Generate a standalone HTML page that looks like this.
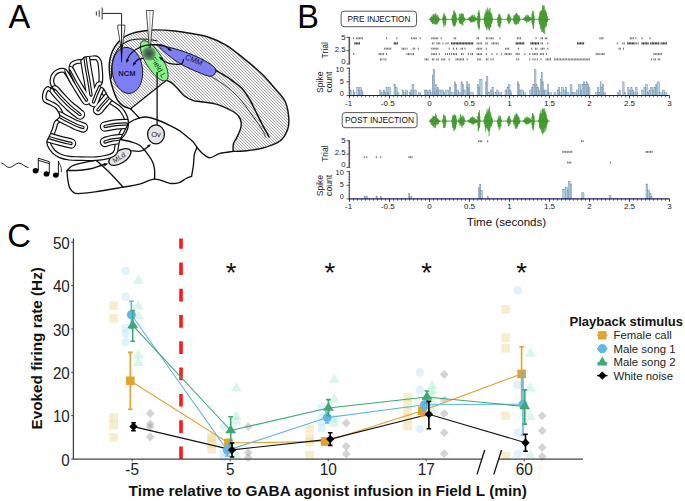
<!DOCTYPE html>
<html><head><meta charset="utf-8"><style>
html,body{margin:0;padding:0;background:#fff;}
svg{display:block;}
text{font-family:"Liberation Sans",sans-serif;}
</style></head><body>
<svg width="685" height="501" viewBox="0 0 685 501">
<rect width="685" height="501" fill="#fff"/>
<text x="8.4" y="27.9" font-size="32.6" fill="#000">A</text>
<text x="297.2" y="27.9" font-size="32.4" fill="#000">B</text>
<text x="7.2" y="247.2" font-size="32.8" fill="#000">C</text>
<defs><pattern id="hatch" patternUnits="userSpaceOnUse" width="3" height="3"><rect width="3" height="3" fill="#f4f4f4"/><rect x="0" y="0" width="1" height="1" fill="#aaaaaa"/><rect x="1" y="1" width="1" height="1" fill="#aaaaaa"/><rect x="2" y="2" width="1" height="1" fill="#aaaaaa"/></pattern><radialGradient id="spot"><stop offset="0" stop-color="#2c4f32"/><stop offset="0.45" stop-color="#4a6f50"/><stop offset="0.8" stop-color="#6a8c6e" stop-opacity="0.9"/><stop offset="1" stop-color="#80b080" stop-opacity="0"/></radialGradient></defs>
<path d="M130.60 108.80C129.42 108.37 125.70 107.65 123.50 106.20C121.30 104.75 119.03 102.58 117.40 100.10C115.77 97.62 114.85 94.65 113.70 91.30C112.55 87.95 111.25 83.88 110.50 80.00C109.75 76.12 109.28 71.50 109.20 68.00C109.12 64.50 109.45 61.83 110.00 59.00C110.55 56.17 111.17 53.75 112.50 51.00C113.83 48.25 115.92 44.92 118.00 42.50C120.08 40.08 122.17 38.17 125.00 36.50C127.83 34.83 131.67 33.45 135.00 32.50C138.33 31.55 141.67 31.23 145.00 30.80C148.33 30.37 150.00 29.87 155.00 29.90C160.00 29.93 169.17 30.43 175.00 31.00C180.83 31.57 184.50 32.30 190.00 33.30C195.50 34.30 202.00 35.03 208.00 37.00C214.00 38.97 220.00 41.50 226.00 45.10C232.00 48.70 238.00 53.78 244.00 58.60C250.00 63.42 256.63 68.77 262.00 74.00C267.37 79.23 272.33 85.42 276.20 90.00C280.07 94.58 283.12 97.00 285.20 101.50C287.28 106.00 288.30 112.33 288.70 117.00C289.10 121.67 289.05 125.50 287.60 129.50C286.15 133.50 284.27 137.87 280.00 141.00C275.73 144.13 268.00 146.63 262.00 148.30C256.00 149.97 248.82 150.48 244.00 151.00C239.18 151.52 234.92 151.33 233.10 151.40 L233.4 144 L233.40 144.00C233.95 142.93 235.55 140.02 236.70 137.60C237.85 135.18 239.55 132.05 240.30 129.50C241.05 126.95 241.50 124.55 241.20 122.30C240.90 120.05 239.87 117.80 238.50 116.00C237.13 114.20 236.58 113.43 233.00 111.50C229.42 109.57 222.33 106.03 217.00 104.40C211.67 102.77 204.93 102.33 201.00 101.70C197.07 101.07 196.12 101.50 193.40 100.60C190.68 99.70 187.35 98.32 184.70 96.30C182.05 94.28 179.68 90.73 177.50 88.50C175.32 86.27 173.43 84.28 171.60 82.90C169.77 81.52 167.35 80.65 166.50 80.20 Z" fill="url(#hatch)"/>
<path d="M130.60 108.80C129.42 108.37 125.70 107.65 123.50 106.20C121.30 104.75 119.03 102.58 117.40 100.10C115.77 97.62 114.85 94.65 113.70 91.30C112.55 87.95 111.25 83.88 110.50 80.00C109.75 76.12 109.28 71.50 109.20 68.00C109.12 64.50 109.45 61.83 110.00 59.00C110.55 56.17 111.17 53.75 112.50 51.00C113.83 48.25 115.92 44.92 118.00 42.50C120.08 40.08 122.17 38.17 125.00 36.50C127.83 34.83 131.67 33.45 135.00 32.50C138.33 31.55 141.67 31.23 145.00 30.80C148.33 30.37 150.00 29.87 155.00 29.90C160.00 29.93 169.17 30.43 175.00 31.00C180.83 31.57 184.50 32.30 190.00 33.30C195.50 34.30 202.00 35.03 208.00 37.00C214.00 38.97 220.00 41.50 226.00 45.10C232.00 48.70 238.00 53.78 244.00 58.60C250.00 63.42 256.63 68.77 262.00 74.00C267.37 79.23 272.33 85.42 276.20 90.00C280.07 94.58 283.12 97.00 285.20 101.50C287.28 106.00 288.30 112.33 288.70 117.00C289.10 121.67 289.05 125.50 287.60 129.50C286.15 133.50 284.27 137.87 280.00 141.00C275.73 144.13 268.00 146.63 262.00 148.30C256.00 149.97 248.82 150.48 244.00 151.00C239.18 151.52 234.92 151.33 233.10 151.40" stroke="#111" fill="none" stroke-width="1.45" stroke-linejoin="round" stroke-linecap="round"/>
<path d="M233.10 151.40C233.15 150.17 232.80 146.30 233.40 144.00C234.00 141.70 235.55 140.02 236.70 137.60C237.85 135.18 239.55 132.05 240.30 129.50C241.05 126.95 241.50 124.55 241.20 122.30C240.90 120.05 239.87 117.80 238.50 116.00C237.13 114.20 236.58 113.43 233.00 111.50C229.42 109.57 222.33 106.03 217.00 104.40C211.67 102.77 204.93 102.33 201.00 101.70C197.07 101.07 196.12 101.50 193.40 100.60C190.68 99.70 187.35 98.32 184.70 96.30C182.05 94.28 179.68 90.73 177.50 88.50C175.32 86.27 173.43 84.28 171.60 82.90C169.77 81.52 167.35 80.65 166.50 80.20" stroke="#111" fill="none" stroke-width="1.4" stroke-linejoin="round" stroke-linecap="round"/>
<path d="M166.50 80.20C160.52 84.97 136.58 104.03 130.60 108.80" stroke="#111" fill="none" stroke-width="1.2" stroke-linejoin="round" stroke-linecap="round"/>
<path d="M111.60 78.00C111.63 76.00 111.32 69.83 111.80 66.00C112.28 62.17 113.13 58.25 114.50 55.00C115.87 51.75 117.92 48.75 120.00 46.50C122.08 44.25 124.33 42.72 127.00 41.50C129.67 40.28 132.50 39.57 136.00 39.20C139.50 38.83 144.50 39.03 148.00 39.30C151.50 39.57 155.50 40.55 157.00 40.80" stroke="#111" fill="none" stroke-width="1.1" stroke-linejoin="round" stroke-linecap="round"/>
<path d="M151.00 44.60C152.83 44.70 160.17 45.10 162.00 45.20" stroke="#111" fill="none" stroke-width="1.4" stroke-linejoin="round" stroke-linecap="round"/>
<path d="M216.00 70.50C218.33 71.92 225.67 76.00 230.00 79.00C234.33 82.00 238.67 85.00 242.00 88.50C245.33 92.00 247.67 96.08 250.00 100.00C252.33 103.92 254.00 108.00 256.00 112.00C258.00 116.00 260.17 120.50 262.00 124.00C263.83 127.50 265.83 130.83 267.00 133.00C268.17 135.17 268.67 136.33 269.00 137.00" stroke="#111" fill="none" stroke-width="1.5" stroke-linejoin="round" stroke-linecap="round"/>
<path d="M211.00 76.50C212.50 77.42 217.00 80.00 220.00 82.00C223.00 84.00 225.67 85.67 229.00 88.50C232.33 91.33 236.67 95.25 240.00 99.00C243.33 102.75 246.17 107.17 249.00 111.00C251.83 114.83 254.67 118.67 257.00 122.00C259.33 125.33 261.58 128.50 263.00 131.00C264.42 133.50 265.08 136.00 265.50 137.00" stroke="#111" fill="none" stroke-width="0.8" stroke-linejoin="round" stroke-linecap="round"/>
<ellipse cx="127.4" cy="70.4" rx="15.2" ry="23.1" transform="rotate(-6 127.4 70.4)" fill="#7e7ef6" stroke="#111" stroke-width="0.9"/>
<path d="M159.60 45.60C161.88 45.70 168.62 47.10 174.00 48.60C179.38 50.10 186.32 52.32 191.90 54.60C197.48 56.88 203.62 59.98 207.50 62.30C211.38 64.62 214.03 66.52 215.20 68.50C216.37 70.48 215.45 72.92 214.50 74.20C213.55 75.48 212.27 76.55 209.50 76.20C206.73 75.85 202.23 73.88 197.90 72.10C193.57 70.32 187.48 67.58 183.50 65.50C179.52 63.42 176.98 61.68 174.00 59.60C171.02 57.52 167.88 54.93 165.60 53.00C163.32 51.07 161.30 49.23 160.30 48.00C159.30 46.77 157.32 45.50 159.60 45.60Z" fill="#7e7ef6" stroke="#111" stroke-width="1.0"/>
<ellipse cx="154.2" cy="60.8" rx="23" ry="8.3" transform="rotate(58.6 154.2 60.8)" fill="#84f484" stroke="#222" stroke-width="0.8"/>
<text x="127" y="75.9" font-size="7.6" font-weight="bold" text-anchor="middle" fill="#1a1a3a">NCM</text>
<text transform="translate(193 62.4) rotate(22)" font-size="7.6" text-anchor="middle" fill="#141430">CMM</text>
<text transform="translate(156.3 68.6) rotate(60)" font-size="7.6" text-anchor="middle" fill="#142814">Field L</text>
<circle cx="149" cy="53.5" r="7.6" fill="url(#spot)"/>
<path d="M102.2 13.4H121.6V25.1" stroke="#222" stroke-width="1" fill="none"/>
<path d="M96.4 11.4v4.2M99.2 10.2v6.6M102.2 7.4v12" stroke="#555" stroke-width="1.2" fill="none"/>
<path d="M117.8 25.1H124.9V28L122.2 47.5L121 47.5L117.8 28Z" fill="#fff" stroke="#222" stroke-width="0.8"/>
<path d="M121.6 25.1V47" stroke="#111" stroke-width="1.0" fill="none"/>
<path d="M120.3 44.5L122.9 44.5L121.9 62.5L121.3 62.5Z" fill="#111"/>
<path d="M146.3 10.5H153.4L150.4 47.5H149.3Z" fill="#fff" stroke="#222" stroke-width="0.8"/>
<path d="M149.85 10.5V47" stroke="#666" stroke-width="0.5" fill="none"/>
<path d="M157.30 44.70C155.52 44.78 150.10 44.43 146.60 45.20C143.10 45.97 139.03 47.77 136.30 49.30C133.57 50.83 131.67 52.70 130.20 54.40C128.73 56.10 127.95 58.65 127.50 59.50" stroke="#111" fill="none" stroke-width="1.25" stroke-linejoin="round" stroke-linecap="round"/>
<path d="M126.10 63.20L126.26 58.71L129.20 59.95Z" fill="#111"/>
<path d="M157.30 44.70C158.25 44.82 161.13 44.78 163.00 45.40C164.87 46.02 167.58 47.90 168.50 48.40" stroke="#111" fill="none" stroke-width="1.25" stroke-linejoin="round" stroke-linecap="round"/>
<path d="M172.00 51.30L167.67 50.09L169.58 47.52Z" fill="#111"/>
<path d="M143.00 58.30C142.17 58.52 139.33 58.93 138.00 59.60C136.67 60.27 135.50 61.85 135.00 62.30" stroke="#111" fill="none" stroke-width="1.25" stroke-linejoin="round" stroke-linecap="round"/>
<path d="M132.60 66.30L133.51 61.90L136.21 63.62Z" fill="#111"/>
<path d="M183.50 59.60C183.30 60.18 183.10 62.30 182.30 63.10C181.50 63.90 180.68 64.30 178.70 64.40C176.72 64.50 172.78 64.22 170.40 63.70C168.02 63.18 165.80 62.02 164.40 61.30C163.00 60.58 162.40 59.72 162.00 59.40" stroke="#111" fill="none" stroke-width="1.25" stroke-linejoin="round" stroke-linecap="round"/>
<path d="M158.80 56.40L163.03 57.92L160.95 60.35Z" fill="#111"/>
<path d="M157.1 72 V125" stroke="#111" stroke-width="1.3" fill="none"/>
<path d="M130.60 108.80C132.05 110.33 137.85 116.47 139.30 118.00" stroke="#111" fill="none" stroke-width="1.35" stroke-linejoin="round" stroke-linecap="round"/>
<path d="M139.30 118.00C138.37 118.33 135.48 119.15 133.70 120.00C131.92 120.85 129.45 122.58 128.60 123.10" stroke="#111" fill="none" stroke-width="1.35" stroke-linejoin="round" stroke-linecap="round"/>
<path d="M139.30 118.00C140.42 117.83 143.18 116.75 146.00 117.00C148.82 117.25 152.20 118.07 156.20 119.50C160.20 120.93 166.03 123.68 170.00 125.60C173.97 127.52 177.00 129.02 180.00 131.00C183.00 132.98 185.77 135.65 188.00 137.50C190.23 139.35 191.90 140.43 193.40 142.10C194.90 143.77 196.40 146.60 197.00 147.50" stroke="#111" fill="none" stroke-width="1.35" stroke-linejoin="round" stroke-linecap="round"/>
<path d="M197.00 147.50C196.55 148.68 194.90 151.62 194.30 154.60C193.70 157.58 193.85 161.80 193.40 165.40C192.95 169.00 191.90 174.40 191.60 176.20" stroke="#111" fill="none" stroke-width="1.35" stroke-linejoin="round" stroke-linecap="round"/>
<path d="M197.00 147.50C197.92 148.48 200.38 151.68 202.50 153.40C204.62 155.12 206.78 157.80 209.70 157.80C212.62 157.80 216.10 154.47 220.00 153.40C223.90 152.33 230.92 151.73 233.10 151.40" stroke="#111" fill="none" stroke-width="1.35" stroke-linejoin="round" stroke-linecap="round"/>
<path d="M128.60 123.10C128.43 124.03 128.28 126.72 127.60 128.70C126.92 130.68 125.60 133.28 124.50 135.00C123.40 136.72 121.58 138.33 121.00 139.00" stroke="#111" fill="none" stroke-width="1.35" stroke-linejoin="round" stroke-linecap="round"/>
<path d="M119.70 139.40C121.42 139.75 126.62 140.48 130.00 141.50C133.38 142.52 136.87 143.13 140.00 145.50C143.13 147.87 146.63 152.78 148.80 155.70C150.97 158.62 152.03 160.62 153.00 163.00C153.97 165.38 154.33 167.32 154.60 170.00C154.87 172.68 154.60 177.58 154.60 179.10" stroke="#111" fill="none" stroke-width="1.35" stroke-linejoin="round" stroke-linecap="round"/>
<path d="M67.00 170.90C67.10 172.08 67.27 175.48 67.60 178.00C67.93 180.52 68.32 183.88 69.00 186.00C69.68 188.12 70.28 189.43 71.70 190.70C73.12 191.97 73.62 193.40 77.50 193.60C81.38 193.80 87.40 192.97 95.00 191.90C102.60 190.83 115.70 188.48 123.10 187.20C130.50 185.92 134.15 185.55 139.40 184.20C144.65 182.85 149.53 179.25 154.60 179.10C159.67 178.95 165.70 182.72 169.80 183.30C173.90 183.88 176.50 183.40 179.20 182.60C181.90 181.80 183.93 179.57 186.00 178.50C188.07 177.43 190.67 176.58 191.60 176.20" stroke="#111" fill="none" stroke-width="1.35" stroke-linejoin="round" stroke-linecap="round"/>
<path d="M96.00 160.40C97.00 159.88 99.75 158.55 102.00 157.30C104.25 156.05 107.17 154.28 109.50 152.90C111.83 151.52 114.92 149.65 116.00 149.00" stroke="#111" fill="none" stroke-width="1.35" stroke-linejoin="round" stroke-linecap="round"/>
<path d="M67.00 170.90C67.83 170.08 69.27 167.37 72.00 166.00C74.73 164.63 79.57 163.63 83.40 162.70C87.23 161.77 93.07 160.78 95.00 160.40" stroke="#111" fill="none" stroke-width="1.35" stroke-linejoin="round" stroke-linecap="round"/>
<path d="M96.20 160.40C98.50 162.50 105.52 168.53 110.00 173.00C114.48 177.47 120.92 184.83 123.10 187.20" stroke="#111" fill="none" stroke-width="1.35" stroke-linejoin="round" stroke-linecap="round"/>
<path d="M67.50 170.60C69.58 170.55 75.92 170.65 80.00 170.30C84.08 169.95 88.50 169.30 92.00 168.50C95.50 167.70 98.92 166.15 101.00 165.50C103.08 164.85 103.92 164.75 104.50 164.60" stroke="#111" fill="none" stroke-width="1.5" stroke-linejoin="round" stroke-linecap="round"/>
<path d="M108.40 163.40L104.60 166.40L103.57 162.95Z" fill="#111"/>
<ellipse cx="119.9" cy="157" rx="12.4" ry="6.2" transform="rotate(-32 119.9 157)" fill="#e6e6e6" stroke="#111" stroke-width="1.25"/>
<text transform="translate(120.4 159.6) rotate(-32)" font-size="7" text-anchor="middle" fill="#222">MLd</text>
<path d="M131.70 150.80C132.88 150.88 136.77 151.47 138.80 151.30C140.83 151.13 142.43 150.52 143.90 149.80C145.37 149.08 146.98 147.47 147.60 147.00" stroke="#111" fill="none" stroke-width="1.3" stroke-linejoin="round" stroke-linecap="round"/>
<path d="M150.80 143.90L148.99 147.81L146.79 145.48Z" fill="#111"/>
<ellipse cx="156" cy="134.4" rx="8.4" ry="9.5" fill="#e6e6e6" stroke="#111" stroke-width="1.25"/>
<text x="156" y="137.4" font-size="7.6" text-anchor="middle" fill="#1a1a1a">Ov</text>
<clipPath id="cerclip"><path d="M88.00 160.60C85.32 160.60 83.05 160.50 79.90 160.40C76.75 160.30 72.50 160.47 69.10 160.00C65.70 159.53 62.28 158.80 59.50 157.60C56.72 156.40 54.38 154.78 52.40 152.80C50.42 150.82 48.50 147.68 47.60 145.70C46.70 143.72 46.70 142.50 47.00 140.90C47.30 139.30 48.50 138.10 49.40 136.10C50.30 134.10 51.52 131.30 52.40 128.90C53.28 126.50 53.47 123.77 54.70 121.70C55.93 119.63 59.58 118.70 59.80 116.50C60.02 114.30 57.63 110.45 56.00 108.50C54.37 106.55 52.00 105.92 50.00 104.80C48.00 103.68 45.27 103.02 44.00 101.80C42.73 100.58 42.48 99.25 42.40 97.50C42.32 95.75 42.77 93.07 43.50 91.30C44.23 89.53 45.70 87.55 46.80 86.90C47.90 86.25 48.77 86.82 50.10 87.40C51.43 87.98 54.62 90.67 54.80 90.40C54.98 90.13 51.98 87.48 51.20 85.80C50.42 84.12 49.92 82.32 50.10 80.30C50.28 78.28 51.02 75.53 52.30 73.70C53.58 71.87 55.78 70.13 57.80 69.30C59.82 68.47 62.75 68.33 64.40 68.70C66.05 69.07 66.52 70.03 67.70 71.50C68.88 72.97 70.32 75.55 71.50 77.50C72.68 79.45 74.67 83.12 74.80 83.20C74.93 83.28 73.13 79.87 72.30 78.00C71.47 76.13 70.35 73.75 69.80 72.00C69.25 70.25 68.80 69.05 69.00 67.50C69.20 65.95 69.75 63.95 71.00 62.70C72.25 61.45 74.67 60.55 76.50 60.00C78.33 59.45 80.65 59.88 82.00 59.40C83.35 58.92 82.70 57.67 84.60 57.10C86.50 56.53 91.20 56.08 93.40 56.00C95.60 55.92 96.52 55.77 97.80 56.60C99.08 57.43 100.37 58.98 101.10 61.00C101.83 63.02 101.93 66.13 102.20 68.70C102.47 71.27 102.70 74.02 102.70 76.40C102.70 78.78 102.65 81.32 102.20 83.00C101.75 84.68 99.82 85.58 100.00 86.50C100.18 87.42 102.30 87.43 103.30 88.50C104.30 89.57 105.10 91.40 106.00 92.90C106.90 94.40 107.62 96.15 108.70 97.50C109.78 98.85 110.67 99.62 112.50 101.00C114.33 102.38 117.70 104.10 119.70 105.80C121.70 107.50 123.18 109.25 124.50 111.20C125.82 113.15 126.97 115.57 127.60 117.50C128.23 119.43 128.52 121.13 128.30 122.80C128.08 124.47 127.13 125.75 126.30 127.50C125.47 129.25 124.40 131.13 123.30 133.30C122.20 135.47 120.50 138.32 119.70 140.50C118.90 142.68 118.90 144.42 118.50 146.40C118.10 148.38 118.13 150.72 117.30 152.40C116.47 154.08 115.55 155.35 113.50 156.50C111.45 157.65 107.92 158.65 105.00 159.30C102.08 159.95 98.83 160.18 96.00 160.40C93.17 160.62 90.68 160.60 88.00 160.60Z"/></clipPath>
<path d="M88.00 160.60C85.32 160.60 83.05 160.50 79.90 160.40C76.75 160.30 72.50 160.47 69.10 160.00C65.70 159.53 62.28 158.80 59.50 157.60C56.72 156.40 54.38 154.78 52.40 152.80C50.42 150.82 48.50 147.68 47.60 145.70C46.70 143.72 46.70 142.50 47.00 140.90C47.30 139.30 48.50 138.10 49.40 136.10C50.30 134.10 51.52 131.30 52.40 128.90C53.28 126.50 53.47 123.77 54.70 121.70C55.93 119.63 59.58 118.70 59.80 116.50C60.02 114.30 57.63 110.45 56.00 108.50C54.37 106.55 52.00 105.92 50.00 104.80C48.00 103.68 45.27 103.02 44.00 101.80C42.73 100.58 42.48 99.25 42.40 97.50C42.32 95.75 42.77 93.07 43.50 91.30C44.23 89.53 45.70 87.55 46.80 86.90C47.90 86.25 48.77 86.82 50.10 87.40C51.43 87.98 54.62 90.67 54.80 90.40C54.98 90.13 51.98 87.48 51.20 85.80C50.42 84.12 49.92 82.32 50.10 80.30C50.28 78.28 51.02 75.53 52.30 73.70C53.58 71.87 55.78 70.13 57.80 69.30C59.82 68.47 62.75 68.33 64.40 68.70C66.05 69.07 66.52 70.03 67.70 71.50C68.88 72.97 70.32 75.55 71.50 77.50C72.68 79.45 74.67 83.12 74.80 83.20C74.93 83.28 73.13 79.87 72.30 78.00C71.47 76.13 70.35 73.75 69.80 72.00C69.25 70.25 68.80 69.05 69.00 67.50C69.20 65.95 69.75 63.95 71.00 62.70C72.25 61.45 74.67 60.55 76.50 60.00C78.33 59.45 80.65 59.88 82.00 59.40C83.35 58.92 82.70 57.67 84.60 57.10C86.50 56.53 91.20 56.08 93.40 56.00C95.60 55.92 96.52 55.77 97.80 56.60C99.08 57.43 100.37 58.98 101.10 61.00C101.83 63.02 101.93 66.13 102.20 68.70C102.47 71.27 102.70 74.02 102.70 76.40C102.70 78.78 102.65 81.32 102.20 83.00C101.75 84.68 99.82 85.58 100.00 86.50C100.18 87.42 102.30 87.43 103.30 88.50C104.30 89.57 105.10 91.40 106.00 92.90C106.90 94.40 107.62 96.15 108.70 97.50C109.78 98.85 110.67 99.62 112.50 101.00C114.33 102.38 117.70 104.10 119.70 105.80C121.70 107.50 123.18 109.25 124.50 111.20C125.82 113.15 126.97 115.57 127.60 117.50C128.23 119.43 128.52 121.13 128.30 122.80C128.08 124.47 127.13 125.75 126.30 127.50C125.47 129.25 124.40 131.13 123.30 133.30C122.20 135.47 120.50 138.32 119.70 140.50C118.90 142.68 118.90 144.42 118.50 146.40C118.10 148.38 118.13 150.72 117.30 152.40C116.47 154.08 115.55 155.35 113.50 156.50C111.45 157.65 107.92 158.65 105.00 159.30C102.08 159.95 98.83 160.18 96.00 160.40C93.17 160.62 90.68 160.60 88.00 160.60Z" fill="#fff" stroke="none"/>
<g clip-path="url(#cerclip)"><path d="M88.00 160.60C85.32 160.60 83.05 160.50 79.90 160.40C76.75 160.30 72.50 160.47 69.10 160.00C65.70 159.53 62.28 158.80 59.50 157.60C56.72 156.40 54.38 154.78 52.40 152.80C50.42 150.82 48.50 147.68 47.60 145.70C46.70 143.72 46.70 142.50 47.00 140.90C47.30 139.30 48.50 138.10 49.40 136.10C50.30 134.10 51.52 131.30 52.40 128.90C53.28 126.50 53.47 123.77 54.70 121.70C55.93 119.63 59.58 118.70 59.80 116.50C60.02 114.30 57.63 110.45 56.00 108.50C54.37 106.55 52.00 105.92 50.00 104.80C48.00 103.68 45.27 103.02 44.00 101.80C42.73 100.58 42.48 99.25 42.40 97.50C42.32 95.75 42.77 93.07 43.50 91.30C44.23 89.53 45.70 87.55 46.80 86.90C47.90 86.25 48.77 86.82 50.10 87.40C51.43 87.98 54.62 90.67 54.80 90.40C54.98 90.13 51.98 87.48 51.20 85.80C50.42 84.12 49.92 82.32 50.10 80.30C50.28 78.28 51.02 75.53 52.30 73.70C53.58 71.87 55.78 70.13 57.80 69.30C59.82 68.47 62.75 68.33 64.40 68.70C66.05 69.07 66.52 70.03 67.70 71.50C68.88 72.97 70.32 75.55 71.50 77.50C72.68 79.45 74.67 83.12 74.80 83.20C74.93 83.28 73.13 79.87 72.30 78.00C71.47 76.13 70.35 73.75 69.80 72.00C69.25 70.25 68.80 69.05 69.00 67.50C69.20 65.95 69.75 63.95 71.00 62.70C72.25 61.45 74.67 60.55 76.50 60.00C78.33 59.45 80.65 59.88 82.00 59.40C83.35 58.92 82.70 57.67 84.60 57.10C86.50 56.53 91.20 56.08 93.40 56.00C95.60 55.92 96.52 55.77 97.80 56.60C99.08 57.43 100.37 58.98 101.10 61.00C101.83 63.02 101.93 66.13 102.20 68.70C102.47 71.27 102.70 74.02 102.70 76.40C102.70 78.78 102.65 81.32 102.20 83.00C101.75 84.68 99.82 85.58 100.00 86.50C100.18 87.42 102.30 87.43 103.30 88.50C104.30 89.57 105.10 91.40 106.00 92.90C106.90 94.40 107.62 96.15 108.70 97.50C109.78 98.85 110.67 99.62 112.50 101.00C114.33 102.38 117.70 104.10 119.70 105.80C121.70 107.50 123.18 109.25 124.50 111.20C125.82 113.15 126.97 115.57 127.60 117.50C128.23 119.43 128.52 121.13 128.30 122.80C128.08 124.47 127.13 125.75 126.30 127.50C125.47 129.25 124.40 131.13 123.30 133.30C122.20 135.47 120.50 138.32 119.70 140.50C118.90 142.68 118.90 144.42 118.50 146.40C118.10 148.38 118.13 150.72 117.30 152.40C116.47 154.08 115.55 155.35 113.50 156.50C111.45 157.65 107.92 158.65 105.00 159.30C102.08 159.95 98.83 160.18 96.00 160.40C93.17 160.62 90.68 160.60 88.00 160.60Z" fill="none" stroke="#111" stroke-width="8.4" stroke-linejoin="round"/><path d="M88.00 160.60C85.32 160.60 83.05 160.50 79.90 160.40C76.75 160.30 72.50 160.47 69.10 160.00C65.70 159.53 62.28 158.80 59.50 157.60C56.72 156.40 54.38 154.78 52.40 152.80C50.42 150.82 48.50 147.68 47.60 145.70C46.70 143.72 46.70 142.50 47.00 140.90C47.30 139.30 48.50 138.10 49.40 136.10C50.30 134.10 51.52 131.30 52.40 128.90C53.28 126.50 53.47 123.77 54.70 121.70C55.93 119.63 59.58 118.70 59.80 116.50C60.02 114.30 57.63 110.45 56.00 108.50C54.37 106.55 52.00 105.92 50.00 104.80C48.00 103.68 45.27 103.02 44.00 101.80C42.73 100.58 42.48 99.25 42.40 97.50C42.32 95.75 42.77 93.07 43.50 91.30C44.23 89.53 45.70 87.55 46.80 86.90C47.90 86.25 48.77 86.82 50.10 87.40C51.43 87.98 54.62 90.67 54.80 90.40C54.98 90.13 51.98 87.48 51.20 85.80C50.42 84.12 49.92 82.32 50.10 80.30C50.28 78.28 51.02 75.53 52.30 73.70C53.58 71.87 55.78 70.13 57.80 69.30C59.82 68.47 62.75 68.33 64.40 68.70C66.05 69.07 66.52 70.03 67.70 71.50C68.88 72.97 70.32 75.55 71.50 77.50C72.68 79.45 74.67 83.12 74.80 83.20C74.93 83.28 73.13 79.87 72.30 78.00C71.47 76.13 70.35 73.75 69.80 72.00C69.25 70.25 68.80 69.05 69.00 67.50C69.20 65.95 69.75 63.95 71.00 62.70C72.25 61.45 74.67 60.55 76.50 60.00C78.33 59.45 80.65 59.88 82.00 59.40C83.35 58.92 82.70 57.67 84.60 57.10C86.50 56.53 91.20 56.08 93.40 56.00C95.60 55.92 96.52 55.77 97.80 56.60C99.08 57.43 100.37 58.98 101.10 61.00C101.83 63.02 101.93 66.13 102.20 68.70C102.47 71.27 102.70 74.02 102.70 76.40C102.70 78.78 102.65 81.32 102.20 83.00C101.75 84.68 99.82 85.58 100.00 86.50C100.18 87.42 102.30 87.43 103.30 88.50C104.30 89.57 105.10 91.40 106.00 92.90C106.90 94.40 107.62 96.15 108.70 97.50C109.78 98.85 110.67 99.62 112.50 101.00C114.33 102.38 117.70 104.10 119.70 105.80C121.70 107.50 123.18 109.25 124.50 111.20C125.82 113.15 126.97 115.57 127.60 117.50C128.23 119.43 128.52 121.13 128.30 122.80C128.08 124.47 127.13 125.75 126.30 127.50C125.47 129.25 124.40 131.13 123.30 133.30C122.20 135.47 120.50 138.32 119.70 140.50C118.90 142.68 118.90 144.42 118.50 146.40C118.10 148.38 118.13 150.72 117.30 152.40C116.47 154.08 115.55 155.35 113.50 156.50C111.45 157.65 107.92 158.65 105.00 159.30C102.08 159.95 98.83 160.18 96.00 160.40C93.17 160.62 90.68 160.60 88.00 160.60Z" fill="none" stroke="#fff" stroke-width="6.0" stroke-linejoin="round"/>
<path d="M59.80 116.50C61.00 117.17 64.30 119.08 67.00 120.50C69.70 121.92 73.33 123.83 76.00 125.00C78.67 126.17 81.83 127.08 83.00 127.50" stroke="#111" fill="none" stroke-width="10.4" stroke-linecap="round" stroke-linejoin="round"/>
<path d="M54.80 90.40C55.83 91.58 58.47 94.82 61.00 97.50C63.53 100.18 66.83 103.67 70.00 106.50C73.17 109.33 78.33 113.17 80.00 114.50" stroke="#111" fill="none" stroke-width="10.4" stroke-linecap="round" stroke-linejoin="round"/>
<path d="M69.50 71.00C70.42 72.75 73.08 78.08 75.00 81.50C76.92 84.92 79.08 88.42 81.00 91.50C82.92 94.58 85.58 98.58 86.50 100.00" stroke="#111" fill="none" stroke-width="10.4" stroke-linecap="round" stroke-linejoin="round"/>
<path d="M85.00 57.50C85.25 59.25 85.83 63.92 86.50 68.00C87.17 72.08 88.25 77.50 89.00 82.00C89.75 86.50 90.67 92.83 91.00 95.00" stroke="#111" fill="none" stroke-width="10.4" stroke-linecap="round" stroke-linejoin="round"/>
<path d="M100.00 86.50C99.42 87.75 97.58 91.42 96.50 94.00C95.42 96.58 94.00 100.67 93.50 102.00" stroke="#111" fill="none" stroke-width="10.4" stroke-linecap="round" stroke-linejoin="round"/>
<path d="M108.70 97.50C107.75 98.58 104.78 101.92 103.00 104.00C101.22 106.08 98.83 109.00 98.00 110.00" stroke="#111" fill="none" stroke-width="10.4" stroke-linecap="round" stroke-linejoin="round"/>
<path d="M126.40 124.00C124.67 124.08 119.57 124.08 116.00 124.50C112.43 124.92 106.83 126.17 105.00 126.50" stroke="#111" fill="none" stroke-width="10.4" stroke-linecap="round" stroke-linejoin="round"/>
<path d="M120.50 139.00C119.08 139.17 114.58 139.50 112.00 140.00C109.42 140.50 106.17 141.67 105.00 142.00" stroke="#111" fill="none" stroke-width="10.4" stroke-linecap="round" stroke-linejoin="round"/>
<path d="M48.50 137.50C50.25 138.00 55.25 139.50 59.00 140.50C62.75 141.50 69.00 143.00 71.00 143.50" stroke="#111" fill="none" stroke-width="10.4" stroke-linecap="round" stroke-linejoin="round"/>
<path d="M59.80 116.50C61.00 117.17 64.30 119.08 67.00 120.50C69.70 121.92 73.33 123.83 76.00 125.00C78.67 126.17 81.83 127.08 83.00 127.50" stroke="#fff" fill="none" stroke-width="8.0" stroke-linecap="round" stroke-linejoin="round"/>
<path d="M54.80 90.40C55.83 91.58 58.47 94.82 61.00 97.50C63.53 100.18 66.83 103.67 70.00 106.50C73.17 109.33 78.33 113.17 80.00 114.50" stroke="#fff" fill="none" stroke-width="8.0" stroke-linecap="round" stroke-linejoin="round"/>
<path d="M69.50 71.00C70.42 72.75 73.08 78.08 75.00 81.50C76.92 84.92 79.08 88.42 81.00 91.50C82.92 94.58 85.58 98.58 86.50 100.00" stroke="#fff" fill="none" stroke-width="8.0" stroke-linecap="round" stroke-linejoin="round"/>
<path d="M85.00 57.50C85.25 59.25 85.83 63.92 86.50 68.00C87.17 72.08 88.25 77.50 89.00 82.00C89.75 86.50 90.67 92.83 91.00 95.00" stroke="#fff" fill="none" stroke-width="8.0" stroke-linecap="round" stroke-linejoin="round"/>
<path d="M100.00 86.50C99.42 87.75 97.58 91.42 96.50 94.00C95.42 96.58 94.00 100.67 93.50 102.00" stroke="#fff" fill="none" stroke-width="8.0" stroke-linecap="round" stroke-linejoin="round"/>
<path d="M108.70 97.50C107.75 98.58 104.78 101.92 103.00 104.00C101.22 106.08 98.83 109.00 98.00 110.00" stroke="#fff" fill="none" stroke-width="8.0" stroke-linecap="round" stroke-linejoin="round"/>
<path d="M126.40 124.00C124.67 124.08 119.57 124.08 116.00 124.50C112.43 124.92 106.83 126.17 105.00 126.50" stroke="#fff" fill="none" stroke-width="8.0" stroke-linecap="round" stroke-linejoin="round"/>
<path d="M120.50 139.00C119.08 139.17 114.58 139.50 112.00 140.00C109.42 140.50 106.17 141.67 105.00 142.00" stroke="#fff" fill="none" stroke-width="8.0" stroke-linecap="round" stroke-linejoin="round"/>
<path d="M48.50 137.50C50.25 138.00 55.25 139.50 59.00 140.50C62.75 141.50 69.00 143.00 71.00 143.50" stroke="#fff" fill="none" stroke-width="8.0" stroke-linecap="round" stroke-linejoin="round"/>
<path d="M59.80 116.50C61.00 117.17 64.30 119.08 67.00 120.50C69.70 121.92 73.33 123.83 76.00 125.00C78.67 126.17 81.83 127.08 83.00 127.50" stroke="#111" fill="none" stroke-width="3.4" stroke-linecap="round" stroke-linejoin="round"/>
<path d="M54.80 90.40C55.83 91.58 58.47 94.82 61.00 97.50C63.53 100.18 66.83 103.67 70.00 106.50C73.17 109.33 78.33 113.17 80.00 114.50" stroke="#111" fill="none" stroke-width="3.4" stroke-linecap="round" stroke-linejoin="round"/>
<path d="M69.50 71.00C70.42 72.75 73.08 78.08 75.00 81.50C76.92 84.92 79.08 88.42 81.00 91.50C82.92 94.58 85.58 98.58 86.50 100.00" stroke="#111" fill="none" stroke-width="3.4" stroke-linecap="round" stroke-linejoin="round"/>
<path d="M85.00 57.50C85.25 59.25 85.83 63.92 86.50 68.00C87.17 72.08 88.25 77.50 89.00 82.00C89.75 86.50 90.67 92.83 91.00 95.00" stroke="#111" fill="none" stroke-width="3.4" stroke-linecap="round" stroke-linejoin="round"/>
<path d="M100.00 86.50C99.42 87.75 97.58 91.42 96.50 94.00C95.42 96.58 94.00 100.67 93.50 102.00" stroke="#111" fill="none" stroke-width="3.4" stroke-linecap="round" stroke-linejoin="round"/>
<path d="M108.70 97.50C107.75 98.58 104.78 101.92 103.00 104.00C101.22 106.08 98.83 109.00 98.00 110.00" stroke="#111" fill="none" stroke-width="3.4" stroke-linecap="round" stroke-linejoin="round"/>
<path d="M126.40 124.00C124.67 124.08 119.57 124.08 116.00 124.50C112.43 124.92 106.83 126.17 105.00 126.50" stroke="#111" fill="none" stroke-width="3.4" stroke-linecap="round" stroke-linejoin="round"/>
<path d="M120.50 139.00C119.08 139.17 114.58 139.50 112.00 140.00C109.42 140.50 106.17 141.67 105.00 142.00" stroke="#111" fill="none" stroke-width="3.4" stroke-linecap="round" stroke-linejoin="round"/>
<path d="M48.50 137.50C50.25 138.00 55.25 139.50 59.00 140.50C62.75 141.50 69.00 143.00 71.00 143.50" stroke="#111" fill="none" stroke-width="3.4" stroke-linecap="round" stroke-linejoin="round"/>
<path d="M59.80 116.50C61.00 117.17 64.30 119.08 67.00 120.50C69.70 121.92 73.33 123.83 76.00 125.00C78.67 126.17 81.83 127.08 83.00 127.50" stroke="#fff" fill="none" stroke-width="1.1" stroke-linecap="round" stroke-linejoin="round"/>
<path d="M54.80 90.40C55.83 91.58 58.47 94.82 61.00 97.50C63.53 100.18 66.83 103.67 70.00 106.50C73.17 109.33 78.33 113.17 80.00 114.50" stroke="#fff" fill="none" stroke-width="1.1" stroke-linecap="round" stroke-linejoin="round"/>
<path d="M69.50 71.00C70.42 72.75 73.08 78.08 75.00 81.50C76.92 84.92 79.08 88.42 81.00 91.50C82.92 94.58 85.58 98.58 86.50 100.00" stroke="#fff" fill="none" stroke-width="1.1" stroke-linecap="round" stroke-linejoin="round"/>
<path d="M85.00 57.50C85.25 59.25 85.83 63.92 86.50 68.00C87.17 72.08 88.25 77.50 89.00 82.00C89.75 86.50 90.67 92.83 91.00 95.00" stroke="#fff" fill="none" stroke-width="1.1" stroke-linecap="round" stroke-linejoin="round"/>
<path d="M100.00 86.50C99.42 87.75 97.58 91.42 96.50 94.00C95.42 96.58 94.00 100.67 93.50 102.00" stroke="#fff" fill="none" stroke-width="1.1" stroke-linecap="round" stroke-linejoin="round"/>
<path d="M108.70 97.50C107.75 98.58 104.78 101.92 103.00 104.00C101.22 106.08 98.83 109.00 98.00 110.00" stroke="#fff" fill="none" stroke-width="1.1" stroke-linecap="round" stroke-linejoin="round"/>
<path d="M126.40 124.00C124.67 124.08 119.57 124.08 116.00 124.50C112.43 124.92 106.83 126.17 105.00 126.50" stroke="#fff" fill="none" stroke-width="1.1" stroke-linecap="round" stroke-linejoin="round"/>
<path d="M120.50 139.00C119.08 139.17 114.58 139.50 112.00 140.00C109.42 140.50 106.17 141.67 105.00 142.00" stroke="#fff" fill="none" stroke-width="1.1" stroke-linecap="round" stroke-linejoin="round"/>
<path d="M48.50 137.50C50.25 138.00 55.25 139.50 59.00 140.50C62.75 141.50 69.00 143.00 71.00 143.50" stroke="#fff" fill="none" stroke-width="1.1" stroke-linecap="round" stroke-linejoin="round"/>
</g>
<path d="M88.00 160.60C85.32 160.60 83.05 160.50 79.90 160.40C76.75 160.30 72.50 160.47 69.10 160.00C65.70 159.53 62.28 158.80 59.50 157.60C56.72 156.40 54.38 154.78 52.40 152.80C50.42 150.82 48.50 147.68 47.60 145.70C46.70 143.72 46.70 142.50 47.00 140.90C47.30 139.30 48.50 138.10 49.40 136.10C50.30 134.10 51.52 131.30 52.40 128.90C53.28 126.50 53.47 123.77 54.70 121.70C55.93 119.63 59.58 118.70 59.80 116.50C60.02 114.30 57.63 110.45 56.00 108.50C54.37 106.55 52.00 105.92 50.00 104.80C48.00 103.68 45.27 103.02 44.00 101.80C42.73 100.58 42.48 99.25 42.40 97.50C42.32 95.75 42.77 93.07 43.50 91.30C44.23 89.53 45.70 87.55 46.80 86.90C47.90 86.25 48.77 86.82 50.10 87.40C51.43 87.98 54.62 90.67 54.80 90.40C54.98 90.13 51.98 87.48 51.20 85.80C50.42 84.12 49.92 82.32 50.10 80.30C50.28 78.28 51.02 75.53 52.30 73.70C53.58 71.87 55.78 70.13 57.80 69.30C59.82 68.47 62.75 68.33 64.40 68.70C66.05 69.07 66.52 70.03 67.70 71.50C68.88 72.97 70.32 75.55 71.50 77.50C72.68 79.45 74.67 83.12 74.80 83.20C74.93 83.28 73.13 79.87 72.30 78.00C71.47 76.13 70.35 73.75 69.80 72.00C69.25 70.25 68.80 69.05 69.00 67.50C69.20 65.95 69.75 63.95 71.00 62.70C72.25 61.45 74.67 60.55 76.50 60.00C78.33 59.45 80.65 59.88 82.00 59.40C83.35 58.92 82.70 57.67 84.60 57.10C86.50 56.53 91.20 56.08 93.40 56.00C95.60 55.92 96.52 55.77 97.80 56.60C99.08 57.43 100.37 58.98 101.10 61.00C101.83 63.02 101.93 66.13 102.20 68.70C102.47 71.27 102.70 74.02 102.70 76.40C102.70 78.78 102.65 81.32 102.20 83.00C101.75 84.68 99.82 85.58 100.00 86.50C100.18 87.42 102.30 87.43 103.30 88.50C104.30 89.57 105.10 91.40 106.00 92.90C106.90 94.40 107.62 96.15 108.70 97.50C109.78 98.85 110.67 99.62 112.50 101.00C114.33 102.38 117.70 104.10 119.70 105.80C121.70 107.50 123.18 109.25 124.50 111.20C125.82 113.15 126.97 115.57 127.60 117.50C128.23 119.43 128.52 121.13 128.30 122.80C128.08 124.47 127.13 125.75 126.30 127.50C125.47 129.25 124.40 131.13 123.30 133.30C122.20 135.47 120.50 138.32 119.70 140.50C118.90 142.68 118.90 144.42 118.50 146.40C118.10 148.38 118.13 150.72 117.30 152.40C116.47 154.08 115.55 155.35 113.50 156.50C111.45 157.65 107.92 158.65 105.00 159.30C102.08 159.95 98.83 160.18 96.00 160.40C93.17 160.62 90.68 160.60 88.00 160.60Z" fill="none" stroke="#111" stroke-width="1.2" stroke-linejoin="round"/>
<path d="M1.2 162.9 C4 163.5 6.5 167.5 9.3 167.5 C13 167.5 15 163.1 18.7 163.1 C22.5 163.1 25 167.5 28.6 167.5" stroke="#222" fill="none" stroke-width="1"/>
<ellipse cx="35.6" cy="170.8" rx="2.9" ry="2.7" fill="#000"/>
<ellipse cx="46.5" cy="173.9" rx="2.9" ry="2.7" fill="#000"/>
<ellipse cx="55.8" cy="175.1" rx="2.9" ry="2.7" fill="#000"/>
<path d="M38.3 170.5V158.2M49.3 173.5V161.7M58.4 174.8V161.1" stroke="#000" stroke-width="0.9" fill="none"/>
<path d="M38.3 158.2L49.3 161.7M38.3 160.3L49.3 163.6" stroke="#000" stroke-width="0.9" fill="none"/>
<path d="M58.4 161.1 C59 164 62 166 61.3 172.2" stroke="#000" stroke-width="0.8" fill="none"/>
<rect x="341.1" y="11.2" width="75.4" height="15.5" rx="3" ry="3" fill="#fff" stroke="#444" stroke-width="0.9"/>
<text x="347.6" y="21.9" font-size="9" textLength="62.9" lengthAdjust="spacingAndGlyphs" fill="#111">PRE INJECTION</text>
<line x1="429" y1="19.3" x2="550" y2="19.3" stroke="#3a9626" stroke-width="0.9"/>
<path d="M430.00 18.60V20.00M430.43 17.59V20.09M430.85 17.79V21.66M431.28 16.91V21.93M431.71 15.68V22.29M432.14 16.81V23.25M432.56 16.60V23.95M432.99 14.23V23.95M433.42 14.13V23.51M433.85 15.89V22.82M434.27 14.84V24.31M434.70 14.95V23.55M435.13 13.50V24.46M435.55 13.39V24.32M435.98 13.69V24.74M436.41 15.92V24.25M436.84 16.53V23.92M437.26 15.26V22.52M437.69 14.80V23.87M438.12 17.13V22.29M438.55 16.54V21.89M438.97 18.28V21.02M439.40 18.60V20.00M442.50 18.60V20.00M442.96 16.61V22.42M443.43 15.36V24.54M443.89 12.80V27.64M444.35 13.71V23.51M444.81 15.64V25.38M445.27 15.56V25.75M445.74 16.43V23.04M446.20 18.60V20.00M451.70 18.60V20.00M452.12 16.22V21.36M452.55 15.48V23.24M452.98 14.77V25.22M453.40 13.48V25.74M453.82 10.65V25.50M454.25 10.30V27.05M454.68 12.08V25.61M455.10 14.04V25.50M455.52 12.63V24.88M455.95 14.19V23.38M456.38 16.79V22.04M456.80 18.60V20.00M458.40 18.60V20.00M458.84 17.41V21.04M459.28 16.94V22.92M459.72 13.60V23.04M460.16 13.92V23.96M460.60 15.95V24.14M461.04 13.65V23.88M461.48 13.63V23.51M461.92 14.07V24.77M462.36 14.06V24.69M462.80 13.27V25.73M463.24 14.08V22.01M463.68 15.66V22.29M464.12 17.42V21.03M464.56 18.09V21.16M465.00 18.60V20.00M468.00 18.60V20.00M468.42 18.60V20.00M468.85 18.11V20.06M469.27 17.47V20.92M469.69 17.05V20.91M470.11 16.59V21.15M470.54 17.03V22.50M470.96 16.52V22.19M471.38 15.46V22.23M471.80 16.83V22.38M472.23 15.42V22.22M472.65 14.60V22.11M473.07 16.93V21.28M473.50 16.72V21.13M473.92 15.56V22.05M474.34 14.75V22.07M474.76 16.26V20.94M475.19 17.54V21.03M475.61 17.54V20.65M476.03 17.32V20.59M476.45 18.14V20.28M476.88 18.31V20.00M477.30 18.60V20.00M477.30 18.60V20.00M477.73 15.83V24.63M478.16 12.36V27.46M478.59 12.39V28.23M479.01 9.82V30.15M479.44 12.50V28.05M479.87 15.48V22.57M480.30 18.60V20.00M483.80 18.60V20.00M484.24 16.70V22.28M484.68 14.93V23.98M485.12 12.56V26.36M485.56 13.31V26.87M486.00 9.29V25.75M486.44 11.96V28.85M486.88 11.00V30.47M487.32 7.59V26.44M487.76 10.09V28.28M488.20 11.87V28.23M488.64 10.62V29.67M489.08 8.75V26.63M489.52 11.85V30.59M489.96 7.74V27.13M490.40 12.11V27.80M490.84 13.18V27.02M491.28 13.27V23.49M491.72 14.29V23.87M492.16 16.41V21.97M492.60 18.60V20.00M497.30 18.60V20.00M497.76 17.02V23.07M498.21 16.83V26.33M498.67 14.48V26.39M499.12 13.61V25.44M499.58 13.91V27.08M500.03 14.99V28.36M500.49 16.74V24.63M500.94 16.85V23.71M501.40 18.60V20.00M507.00 18.60V20.00M507.44 17.17V21.15M507.89 15.36V21.32M508.33 13.94V22.60M508.78 14.29V24.37M509.22 13.65V23.18M509.67 16.39V23.45M510.11 15.89V22.08M510.56 17.80V21.07M511.00 18.60V20.00M513.00 18.60V20.00M513.44 18.00V20.90M513.88 15.73V22.20M514.31 15.21V23.63M514.75 15.13V24.19M515.19 14.29V24.67M515.62 15.25V23.02M516.06 13.42V25.20M516.50 12.77V23.99M516.94 13.76V23.52M517.38 14.13V23.92M517.81 14.98V22.52M518.25 15.70V23.31M518.69 16.23V24.14M519.12 15.26V21.88M519.56 16.71V21.06M520.00 18.60V20.00M523.30 18.60V20.00M523.73 18.60V20.00M524.16 17.62V20.42M524.59 17.69V20.61M525.03 17.22V20.69M525.46 15.60V20.77M525.89 17.23V20.99M526.32 16.77V22.52M526.75 14.59V22.61M527.18 15.08V21.28M527.62 16.78V21.78M528.05 15.21V21.38M528.48 15.56V21.88M528.91 16.55V21.24M529.34 17.04V20.99M529.77 16.70V21.02M530.21 17.15V20.38M530.64 17.72V20.16M531.07 18.37V20.15M531.50 18.60V20.00M531.50 18.60V20.00M531.93 14.48V23.08M532.36 13.26V24.88M532.79 10.37V25.68M533.21 12.28V28.77M533.64 11.65V28.40M534.07 15.60V22.98M534.50 18.60V20.00M538.60 18.60V20.00M539.04 16.39V22.08M539.48 15.20V23.83M539.91 12.01V25.33M540.35 11.77V29.45M540.79 10.91V25.18M541.23 10.34V28.97M541.67 10.08V31.79M542.10 11.32V27.65M542.54 6.66V32.17M542.98 5.02V30.17M543.42 5.21V32.88M543.86 8.84V32.96M544.30 5.72V27.44M544.73 10.43V34.20M545.17 11.19V27.79M545.61 9.54V26.24M546.05 12.35V24.43M546.49 12.51V26.67M546.92 15.13V22.68M547.36 16.54V21.92M547.80 18.60V20.00" stroke="#3a9626" stroke-width="0.8" fill="none"/>
<line x1="349.3" y1="36.8" x2="349.3" y2="64.4" stroke="#333" stroke-width="0.9"/>
<path d="M348.3 37.40H350.2M348.3 38.73H350.2M348.3 40.06H350.2M348.3 41.39H350.2M348.3 42.72H350.2M348.3 44.05H350.2M348.3 45.38H350.2M348.3 46.71H350.2M348.3 48.04H350.2M348.3 49.37H350.2M348.3 50.70H350.2M348.3 52.03H350.2M348.3 53.36H350.2M348.3 54.69H350.2M348.3 56.02H350.2M348.3 57.35H350.2M348.3 58.68H350.2M348.3 60.01H350.2M348.3 61.34H350.2M348.3 62.67H350.2M348.3 64.00H350.2" stroke="#333" stroke-width="0.5"/>
<path d="M346.5 37.40H349.3M346.5 50.70H349.3M346.5 64.00H349.3" stroke="#333" stroke-width="0.8"/>
<text x="345.5" y="39.6" font-size="7.8" text-anchor="end" fill="#222">5</text>
<text x="345.5" y="51.6" font-size="7.8" text-anchor="end" fill="#222">2.5</text>
<text x="345.5" y="63.6" font-size="7.8" text-anchor="end" fill="#222">0</text>
<line x1="349.3" y1="67.60000000000001" x2="349.3" y2="95.5" stroke="#333" stroke-width="0.9"/>
<path d="M348.3 95.50H350.2M348.3 92.77H350.2M348.3 90.04H350.2M348.3 87.31H350.2M348.3 84.58H350.2M348.3 81.85H350.2M348.3 79.12H350.2M348.3 76.39H350.2M348.3 73.66H350.2M348.3 70.93H350.2M348.3 68.20H350.2" stroke="#333" stroke-width="0.5"/>
<path d="M346.5 68.20H349.3M346.5 81.85H349.3M346.5 95.50H349.3" stroke="#333" stroke-width="0.8"/>
<text x="343.8" y="71.7" font-size="7.4" text-anchor="end" fill="#222">10</text>
<text x="343.8" y="83.5" font-size="7.4" text-anchor="end" fill="#222">5</text>
<text x="343.8" y="95.7" font-size="7.4" text-anchor="end" fill="#222">0</text>
<text transform="translate(327.6 50.2) rotate(-90)" font-size="8.6" text-anchor="middle" fill="#222">Trial</text>
<text transform="translate(322.9 82.2) rotate(-90)" font-size="8.6" text-anchor="middle" fill="#222">Spike</text>
<text transform="translate(332.4 82.0) rotate(-90)" font-size="8.6" text-anchor="middle" fill="#222">count</text>
<path d="M353.4 37.3v2.0M356.4 37.3v2.0M357.9 37.3v2.0M359.4 37.3v2.0M360.9 37.3v2.0M362.4 37.3v2.0M386.6 37.3v2.0M396.9 37.3v2.0M411.4 37.3v2.0M413.2 37.3v2.0M414.7 37.3v2.0M416.2 37.3v2.0M420.1 37.3v2.0M431.8 37.3v2.0M433.3 37.3v2.0M434.8 37.3v2.0M436.3 37.3v2.0M437.8 37.3v2.0M441.1 37.3v2.0M454.2 37.3v2.0M455.7 37.3v2.0M477.1 37.3v2.0M478.6 37.3v2.0M486.4 37.3v2.0M487.9 37.3v2.0M490.1 37.3v2.0M491.6 37.3v2.0M493.1 37.3v2.0M500.1 37.3v2.0M517.4 37.3v2.0M518.9 37.3v2.0M520.4 37.3v2.0M536.0 37.3v2.0M541.0 37.3v2.0M542.5 37.3v2.0M545.3 37.3v2.0M546.8 37.3v2.0M599.9 37.3v2.0M601.4 37.3v2.0M602.9 37.3v2.0M630.3 37.3v2.0M631.8 37.3v2.0M633.3 37.3v2.0M635.9 37.3v2.0M642.1 37.3v2.0M650.1 37.3v2.0M354.9 42.4v2.0M356.4 42.4v2.0M357.9 42.4v2.0M359.4 42.4v2.0M354.9 42.4v2.0M356.4 42.4v2.0M357.9 42.4v2.0M359.4 42.4v2.0M394.3 42.4v2.0M395.8 42.4v2.0M397.3 42.4v2.0M394.3 42.4v2.0M395.8 42.4v2.0M397.3 42.4v2.0M432.4 42.4v2.0M433.9 42.4v2.0M436.8 42.4v2.0M438.3 42.4v2.0M439.8 42.4v2.0M443.0 42.4v2.0M446.0 42.4v2.0M448.0 42.4v2.0M451.7 42.4v2.0M453.2 42.4v2.0M454.7 42.4v2.0M456.2 42.4v2.0M457.7 42.4v2.0M459.2 42.4v2.0M460.7 42.4v2.0M462.2 42.4v2.0M463.7 42.4v2.0M465.2 42.4v2.0M466.7 42.4v2.0M468.2 42.4v2.0M469.7 42.4v2.0M471.2 42.4v2.0M472.7 42.4v2.0M451.7 42.4v2.0M453.2 42.4v2.0M454.7 42.4v2.0M456.2 42.4v2.0M457.7 42.4v2.0M459.2 42.4v2.0M460.7 42.4v2.0M462.2 42.4v2.0M463.7 42.4v2.0M465.2 42.4v2.0M466.7 42.4v2.0M468.2 42.4v2.0M469.7 42.4v2.0M471.2 42.4v2.0M472.7 42.4v2.0M477.1 42.4v2.0M478.6 42.4v2.0M480.1 42.4v2.0M481.6 42.4v2.0M485.8 42.4v2.0M487.3 42.4v2.0M492.0 42.4v2.0M493.5 42.4v2.0M495.1 42.4v2.0M496.6 42.4v2.0M498.1 42.4v2.0M516.2 42.4v2.0M517.7 42.4v2.0M519.2 42.4v2.0M520.7 42.4v2.0M522.2 42.4v2.0M523.7 42.4v2.0M516.2 42.4v2.0M517.7 42.4v2.0M519.2 42.4v2.0M520.7 42.4v2.0M522.2 42.4v2.0M523.7 42.4v2.0M531.0 42.4v2.0M532.5 42.4v2.0M534.0 42.4v2.0M535.5 42.4v2.0M537.0 42.4v2.0M538.5 42.4v2.0M531.0 42.4v2.0M532.5 42.4v2.0M534.0 42.4v2.0M535.5 42.4v2.0M537.0 42.4v2.0M538.5 42.4v2.0M541.0 42.4v2.0M542.5 42.4v2.0M547.8 42.4v2.0M577.6 42.4v2.0M579.1 42.4v2.0M580.6 42.4v2.0M582.1 42.4v2.0M583.6 42.4v2.0M577.6 42.4v2.0M579.1 42.4v2.0M580.6 42.4v2.0M582.1 42.4v2.0M583.6 42.4v2.0M617.3 42.4v2.0M622.8 42.4v2.0M624.3 42.4v2.0M627.8 42.4v2.0M629.3 42.4v2.0M630.8 42.4v2.0M632.3 42.4v2.0M633.8 42.4v2.0M627.8 42.4v2.0M629.3 42.4v2.0M630.8 42.4v2.0M632.3 42.4v2.0M633.8 42.4v2.0M635.2 42.4v2.0M636.7 42.4v2.0M638.2 42.4v2.0M642.1 42.4v2.0M643.6 42.4v2.0M645.1 42.4v2.0M646.6 42.4v2.0M648.1 42.4v2.0M642.1 42.4v2.0M643.6 42.4v2.0M645.1 42.4v2.0M646.6 42.4v2.0M648.1 42.4v2.0M650.8 42.4v2.0M652.3 42.4v2.0M653.8 42.4v2.0M655.3 42.4v2.0M656.8 42.4v2.0M658.3 42.4v2.0M650.8 42.4v2.0M652.3 42.4v2.0M653.8 42.4v2.0M655.3 42.4v2.0M656.8 42.4v2.0M658.3 42.4v2.0M660.1 42.4v2.0M661.9 42.4v2.0M663.4 42.4v2.0M664.9 42.4v2.0M666.4 42.4v2.0M661.9 42.4v2.0M663.4 42.4v2.0M664.9 42.4v2.0M666.4 42.4v2.0M384.7 47.7v2.0M386.2 47.7v2.0M387.7 47.7v2.0M389.2 47.7v2.0M390.7 47.7v2.0M402.0 47.7v2.0M403.5 47.7v2.0M405.0 47.7v2.0M407.0 47.7v2.0M413.2 47.7v2.0M414.7 47.7v2.0M418.2 47.7v2.0M431.8 47.7v2.0M433.3 47.7v2.0M434.8 47.7v2.0M436.3 47.7v2.0M437.8 47.7v2.0M449.2 47.7v2.0M453.5 47.7v2.0M456.5 47.7v2.0M461.0 47.7v2.0M462.5 47.7v2.0M465.0 47.7v2.0M477.1 47.7v2.0M478.6 47.7v2.0M480.1 47.7v2.0M481.6 47.7v2.0M486.4 47.7v2.0M505.6 47.7v2.0M507.1 47.7v2.0M508.6 47.7v2.0M518.5 47.7v2.0M531.7 47.7v2.0M535.5 47.7v2.0M537.0 47.7v2.0M541.0 47.7v2.0M542.5 47.7v2.0M544.0 47.7v2.0M547.8 47.7v2.0M619.1 47.7v2.0M620.6 47.7v2.0M623.5 47.7v2.0M353.7 53.1v2.0M379.1 53.1v2.0M380.6 53.1v2.0M382.1 53.1v2.0M383.6 53.1v2.0M386.6 53.1v2.0M407.0 53.1v2.0M408.5 53.1v2.0M410.0 53.1v2.0M412.0 53.1v2.0M413.5 53.1v2.0M431.8 53.1v2.0M433.3 53.1v2.0M434.8 53.1v2.0M436.3 53.1v2.0M439.3 53.1v2.0M445.5 53.1v2.0M447.5 53.1v2.0M449.5 53.1v2.0M451.5 53.1v2.0M453.5 53.1v2.0M455.0 53.1v2.0M456.5 53.1v2.0M461.6 53.1v2.0M463.1 53.1v2.0M468.4 53.1v2.0M471.0 53.1v2.0M472.5 53.1v2.0M477.1 53.1v2.0M478.6 53.1v2.0M480.1 53.1v2.0M481.6 53.1v2.0M486.4 53.1v2.0M492.0 53.1v2.0M497.0 53.1v2.0M501.3 53.1v2.0M505.0 53.1v2.0M506.5 53.1v2.0M508.0 53.1v2.0M509.5 53.1v2.0M511.0 53.1v2.0M516.2 53.1v2.0M517.7 53.1v2.0M519.2 53.1v2.0M524.9 53.1v2.0M529.8 53.1v2.0M532.9 53.1v2.0M534.4 53.1v2.0M535.9 53.1v2.0M537.4 53.1v2.0M540.4 53.1v2.0M541.9 53.1v2.0M543.4 53.1v2.0M546.6 53.1v2.0M596.2 53.1v2.0M597.7 53.1v2.0M599.2 53.1v2.0M601.1 53.1v2.0M602.6 53.1v2.0M604.1 53.1v2.0M653.9 53.1v2.0M655.4 53.1v2.0M656.9 53.1v2.0M658.4 53.1v2.0M659.9 53.1v2.0M661.4 53.1v2.0M380.4 58.4v2.0M381.9 58.4v2.0M384.0 58.4v2.0M385.9 58.4v2.0M425.0 58.4v2.0M426.5 58.4v2.0M428.0 58.4v2.0M432.4 58.4v2.0M433.9 58.4v2.0M436.8 58.4v2.0M438.3 58.4v2.0M441.7 58.4v2.0M443.2 58.4v2.0M444.7 58.4v2.0M449.2 58.4v2.0M456.0 58.4v2.0M457.5 58.4v2.0M459.0 58.4v2.0M460.5 58.4v2.0M462.0 58.4v2.0M463.5 58.4v2.0M467.2 58.4v2.0M477.7 58.4v2.0M479.2 58.4v2.0M480.7 58.4v2.0M486.4 58.4v2.0M487.9 58.4v2.0M491.0 58.4v2.0M493.2 58.4v2.0M516.8 58.4v2.0M518.6 58.4v2.0M529.8 58.4v2.0M533.0 58.4v2.0M535.0 58.4v2.0M537.3 58.4v2.0M541.0 58.4v2.0M546.0 58.4v2.0M547.5 58.4v2.0M549.0 58.4v2.0M550.5 58.4v2.0M554.6 58.4v2.0M556.1 58.4v2.0M557.6 58.4v2.0M559.1 58.4v2.0M560.6 58.4v2.0M562.1 58.4v2.0M563.6 58.4v2.0M565.1 58.4v2.0M566.6 58.4v2.0M568.3 58.4v2.0M569.8 58.4v2.0M571.3 58.4v2.0M572.8 58.4v2.0M574.3 58.4v2.0M575.8 58.4v2.0M577.3 58.4v2.0M578.8 58.4v2.0M580.3 58.4v2.0M581.8 58.4v2.0M583.3 58.4v2.0M584.8 58.4v2.0M586.3 58.4v2.0M587.8 58.4v2.0M589.3 58.4v2.0M651.4 58.4v2.0M653.9 58.4v2.0M655.4 58.4v2.0M658.2 58.4v2.0M659.7 58.4v2.0" stroke="#1a1a1a" stroke-width="0.65"/>
<rect x="350.00" y="90.04" width="1.20" height="5.46" fill="#acd3dc" stroke="#6a7ca2" stroke-width="0.4"/>
<rect x="353.00" y="90.04" width="1.00" height="5.46" fill="#acd3dc" stroke="#6a7ca2" stroke-width="0.4"/>
<rect x="354.00" y="92.77" width="1.00" height="2.73" fill="#acd3dc" stroke="#6a7ca2" stroke-width="0.4"/>
<rect x="356.80" y="87.31" width="1.60" height="8.19" fill="#acd3dc" stroke="#6a7ca2" stroke-width="0.4"/>
<rect x="358.40" y="90.04" width="1.20" height="5.46" fill="#acd3dc" stroke="#6a7ca2" stroke-width="0.4"/>
<rect x="359.60" y="87.31" width="1.50" height="8.19" fill="#acd3dc" stroke="#6a7ca2" stroke-width="0.4"/>
<rect x="361.10" y="90.04" width="1.20" height="5.46" fill="#acd3dc" stroke="#6a7ca2" stroke-width="0.4"/>
<rect x="362.30" y="92.77" width="0.70" height="2.73" fill="#acd3dc" stroke="#6a7ca2" stroke-width="0.4"/>
<rect x="379.70" y="90.04" width="1.30" height="5.46" fill="#acd3dc" stroke="#6a7ca2" stroke-width="0.4"/>
<rect x="381.00" y="92.77" width="2.50" height="2.73" fill="#acd3dc" stroke="#6a7ca2" stroke-width="0.4"/>
<rect x="383.50" y="90.04" width="1.20" height="5.46" fill="#acd3dc" stroke="#6a7ca2" stroke-width="0.4"/>
<rect x="384.70" y="92.77" width="1.30" height="2.73" fill="#acd3dc" stroke="#6a7ca2" stroke-width="0.4"/>
<rect x="386.00" y="87.31" width="1.20" height="8.19" fill="#acd3dc" stroke="#6a7ca2" stroke-width="0.4"/>
<rect x="387.20" y="92.77" width="1.50" height="2.73" fill="#acd3dc" stroke="#6a7ca2" stroke-width="0.4"/>
<rect x="388.70" y="87.31" width="1.60" height="8.19" fill="#acd3dc" stroke="#6a7ca2" stroke-width="0.4"/>
<rect x="394.00" y="84.58" width="1.60" height="10.92" fill="#acd3dc" stroke="#6a7ca2" stroke-width="0.4"/>
<rect x="395.60" y="87.31" width="1.50" height="8.19" fill="#acd3dc" stroke="#6a7ca2" stroke-width="0.4"/>
<rect x="397.10" y="92.77" width="1.90" height="2.73" fill="#acd3dc" stroke="#6a7ca2" stroke-width="0.4"/>
<rect x="402.00" y="90.04" width="1.30" height="5.46" fill="#acd3dc" stroke="#6a7ca2" stroke-width="0.4"/>
<rect x="403.30" y="92.77" width="2.50" height="2.73" fill="#acd3dc" stroke="#6a7ca2" stroke-width="0.4"/>
<rect x="405.80" y="90.04" width="1.90" height="5.46" fill="#acd3dc" stroke="#6a7ca2" stroke-width="0.4"/>
<rect x="409.50" y="92.77" width="1.30" height="2.73" fill="#acd3dc" stroke="#6a7ca2" stroke-width="0.4"/>
<rect x="410.80" y="90.04" width="1.20" height="5.46" fill="#acd3dc" stroke="#6a7ca2" stroke-width="0.4"/>
<rect x="412.00" y="84.58" width="1.90" height="10.92" fill="#acd3dc" stroke="#6a7ca2" stroke-width="0.4"/>
<rect x="413.90" y="90.04" width="2.50" height="5.46" fill="#acd3dc" stroke="#6a7ca2" stroke-width="0.4"/>
<rect x="418.20" y="92.77" width="2.50" height="2.73" fill="#acd3dc" stroke="#6a7ca2" stroke-width="0.4"/>
<rect x="424.40" y="90.04" width="1.60" height="5.46" fill="#acd3dc" stroke="#6a7ca2" stroke-width="0.4"/>
<rect x="426.00" y="90.04" width="1.50" height="5.46" fill="#acd3dc" stroke="#6a7ca2" stroke-width="0.4"/>
<rect x="427.50" y="92.77" width="1.50" height="2.73" fill="#acd3dc" stroke="#6a7ca2" stroke-width="0.4"/>
<rect x="429.00" y="90.04" width="1.50" height="5.46" fill="#acd3dc" stroke="#6a7ca2" stroke-width="0.4"/>
<rect x="430.50" y="92.77" width="0.70" height="2.73" fill="#acd3dc" stroke="#6a7ca2" stroke-width="0.4"/>
<rect x="432.20" y="75.03" width="0.90" height="20.48" fill="#acd3dc" stroke="#6a7ca2" stroke-width="0.4"/>
<rect x="433.10" y="69.56" width="1.60" height="25.93" fill="#acd3dc" stroke="#6a7ca2" stroke-width="0.4"/>
<rect x="434.70" y="92.77" width="0.80" height="2.73" fill="#acd3dc" stroke="#6a7ca2" stroke-width="0.4"/>
<rect x="435.50" y="84.58" width="0.90" height="10.92" fill="#acd3dc" stroke="#6a7ca2" stroke-width="0.4"/>
<rect x="436.40" y="90.04" width="1.00" height="5.46" fill="#acd3dc" stroke="#6a7ca2" stroke-width="0.4"/>
<rect x="437.40" y="87.31" width="1.20" height="8.19" fill="#acd3dc" stroke="#6a7ca2" stroke-width="0.4"/>
<rect x="438.60" y="90.04" width="2.50" height="5.46" fill="#acd3dc" stroke="#6a7ca2" stroke-width="0.4"/>
<rect x="441.10" y="90.04" width="2.50" height="5.46" fill="#acd3dc" stroke="#6a7ca2" stroke-width="0.4"/>
<rect x="443.60" y="92.77" width="1.20" height="2.73" fill="#acd3dc" stroke="#6a7ca2" stroke-width="0.4"/>
<rect x="445.50" y="90.04" width="3.10" height="5.46" fill="#acd3dc" stroke="#6a7ca2" stroke-width="0.4"/>
<rect x="449.20" y="87.31" width="1.60" height="8.19" fill="#acd3dc" stroke="#6a7ca2" stroke-width="0.4"/>
<rect x="451.70" y="92.77" width="2.50" height="2.73" fill="#acd3dc" stroke="#6a7ca2" stroke-width="0.4"/>
<rect x="454.20" y="81.85" width="1.20" height="13.65" fill="#acd3dc" stroke="#6a7ca2" stroke-width="0.4"/>
<rect x="455.40" y="84.58" width="1.20" height="10.92" fill="#acd3dc" stroke="#6a7ca2" stroke-width="0.4"/>
<rect x="456.60" y="90.04" width="1.90" height="5.46" fill="#acd3dc" stroke="#6a7ca2" stroke-width="0.4"/>
<rect x="458.50" y="92.77" width="1.90" height="2.73" fill="#acd3dc" stroke="#6a7ca2" stroke-width="0.4"/>
<rect x="461.00" y="81.85" width="1.20" height="13.65" fill="#acd3dc" stroke="#6a7ca2" stroke-width="0.4"/>
<rect x="462.20" y="84.58" width="1.30" height="10.92" fill="#acd3dc" stroke="#6a7ca2" stroke-width="0.4"/>
<rect x="463.50" y="90.04" width="1.80" height="5.46" fill="#acd3dc" stroke="#6a7ca2" stroke-width="0.4"/>
<rect x="466.60" y="81.85" width="1.20" height="13.65" fill="#acd3dc" stroke="#6a7ca2" stroke-width="0.4"/>
<rect x="467.80" y="87.31" width="0.90" height="8.19" fill="#acd3dc" stroke="#6a7ca2" stroke-width="0.4"/>
<rect x="468.70" y="84.58" width="1.20" height="10.92" fill="#acd3dc" stroke="#6a7ca2" stroke-width="0.4"/>
<rect x="469.90" y="92.77" width="3.50" height="2.73" fill="#acd3dc" stroke="#6a7ca2" stroke-width="0.4"/>
<rect x="477.10" y="84.58" width="1.20" height="10.92" fill="#acd3dc" stroke="#6a7ca2" stroke-width="0.4"/>
<rect x="478.30" y="87.31" width="1.30" height="8.19" fill="#acd3dc" stroke="#6a7ca2" stroke-width="0.4"/>
<rect x="479.60" y="79.12" width="2.50" height="16.38" fill="#acd3dc" stroke="#6a7ca2" stroke-width="0.4"/>
<rect x="485.50" y="81.85" width="0.90" height="13.65" fill="#acd3dc" stroke="#6a7ca2" stroke-width="0.4"/>
<rect x="486.40" y="76.39" width="1.50" height="19.11" fill="#acd3dc" stroke="#6a7ca2" stroke-width="0.4"/>
<rect x="487.90" y="92.77" width="1.60" height="2.73" fill="#acd3dc" stroke="#6a7ca2" stroke-width="0.4"/>
<rect x="490.10" y="90.04" width="1.90" height="5.46" fill="#acd3dc" stroke="#6a7ca2" stroke-width="0.4"/>
<rect x="492.00" y="87.31" width="1.20" height="8.19" fill="#acd3dc" stroke="#6a7ca2" stroke-width="0.4"/>
<rect x="493.20" y="92.77" width="0.70" height="2.73" fill="#acd3dc" stroke="#6a7ca2" stroke-width="0.4"/>
<rect x="495.10" y="92.77" width="1.20" height="2.73" fill="#acd3dc" stroke="#6a7ca2" stroke-width="0.4"/>
<rect x="496.70" y="90.04" width="1.50" height="5.46" fill="#acd3dc" stroke="#6a7ca2" stroke-width="0.4"/>
<rect x="498.80" y="92.77" width="3.10" height="2.73" fill="#acd3dc" stroke="#6a7ca2" stroke-width="0.4"/>
<rect x="505.00" y="90.04" width="1.90" height="5.46" fill="#acd3dc" stroke="#6a7ca2" stroke-width="0.4"/>
<rect x="506.90" y="87.31" width="1.50" height="8.19" fill="#acd3dc" stroke="#6a7ca2" stroke-width="0.4"/>
<rect x="508.40" y="84.58" width="1.60" height="10.92" fill="#acd3dc" stroke="#6a7ca2" stroke-width="0.4"/>
<rect x="510.00" y="90.04" width="1.00" height="5.46" fill="#acd3dc" stroke="#6a7ca2" stroke-width="0.4"/>
<rect x="511.00" y="92.77" width="0.80" height="2.73" fill="#acd3dc" stroke="#6a7ca2" stroke-width="0.4"/>
<rect x="517.20" y="81.85" width="1.20" height="13.65" fill="#acd3dc" stroke="#6a7ca2" stroke-width="0.4"/>
<rect x="518.40" y="84.58" width="0.90" height="10.92" fill="#acd3dc" stroke="#6a7ca2" stroke-width="0.4"/>
<rect x="519.30" y="90.04" width="1.60" height="5.46" fill="#acd3dc" stroke="#6a7ca2" stroke-width="0.4"/>
<rect x="521.70" y="90.04" width="1.70" height="5.46" fill="#acd3dc" stroke="#6a7ca2" stroke-width="0.4"/>
<rect x="523.40" y="92.77" width="2.10" height="2.73" fill="#acd3dc" stroke="#6a7ca2" stroke-width="0.4"/>
<rect x="529.80" y="90.04" width="1.50" height="5.46" fill="#acd3dc" stroke="#6a7ca2" stroke-width="0.4"/>
<rect x="531.30" y="87.31" width="1.60" height="8.19" fill="#acd3dc" stroke="#6a7ca2" stroke-width="0.4"/>
<rect x="532.90" y="84.58" width="1.60" height="10.92" fill="#acd3dc" stroke="#6a7ca2" stroke-width="0.4"/>
<rect x="534.50" y="69.56" width="1.50" height="25.93" fill="#acd3dc" stroke="#6a7ca2" stroke-width="0.4"/>
<rect x="536.00" y="84.58" width="1.00" height="10.92" fill="#acd3dc" stroke="#6a7ca2" stroke-width="0.4"/>
<rect x="537.00" y="87.31" width="1.50" height="8.19" fill="#acd3dc" stroke="#6a7ca2" stroke-width="0.4"/>
<rect x="538.50" y="90.04" width="1.20" height="5.46" fill="#acd3dc" stroke="#6a7ca2" stroke-width="0.4"/>
<rect x="540.40" y="79.12" width="0.80" height="16.38" fill="#acd3dc" stroke="#6a7ca2" stroke-width="0.4"/>
<rect x="541.20" y="72.30" width="1.30" height="23.20" fill="#acd3dc" stroke="#6a7ca2" stroke-width="0.4"/>
<rect x="542.50" y="81.85" width="1.00" height="13.65" fill="#acd3dc" stroke="#6a7ca2" stroke-width="0.4"/>
<rect x="543.50" y="90.04" width="1.20" height="5.46" fill="#acd3dc" stroke="#6a7ca2" stroke-width="0.4"/>
<rect x="544.70" y="90.04" width="2.50" height="5.46" fill="#acd3dc" stroke="#6a7ca2" stroke-width="0.4"/>
<rect x="547.80" y="84.58" width="0.90" height="10.92" fill="#acd3dc" stroke="#6a7ca2" stroke-width="0.4"/>
<rect x="548.70" y="92.77" width="2.80" height="2.73" fill="#acd3dc" stroke="#6a7ca2" stroke-width="0.4"/>
<rect x="554.00" y="92.77" width="1.90" height="2.73" fill="#acd3dc" stroke="#6a7ca2" stroke-width="0.4"/>
<rect x="557.10" y="90.04" width="1.50" height="5.46" fill="#acd3dc" stroke="#6a7ca2" stroke-width="0.4"/>
<rect x="558.60" y="87.31" width="1.20" height="8.19" fill="#acd3dc" stroke="#6a7ca2" stroke-width="0.4"/>
<rect x="559.80" y="92.77" width="1.70" height="2.73" fill="#acd3dc" stroke="#6a7ca2" stroke-width="0.4"/>
<rect x="561.50" y="87.31" width="1.80" height="8.19" fill="#acd3dc" stroke="#6a7ca2" stroke-width="0.4"/>
<rect x="563.30" y="90.04" width="1.90" height="5.46" fill="#acd3dc" stroke="#6a7ca2" stroke-width="0.4"/>
<rect x="565.80" y="87.31" width="1.00" height="8.19" fill="#acd3dc" stroke="#6a7ca2" stroke-width="0.4"/>
<rect x="566.80" y="92.77" width="2.10" height="2.73" fill="#acd3dc" stroke="#6a7ca2" stroke-width="0.4"/>
<rect x="570.10" y="84.58" width="1.90" height="10.92" fill="#acd3dc" stroke="#6a7ca2" stroke-width="0.4"/>
<rect x="572.00" y="92.77" width="1.20" height="2.73" fill="#acd3dc" stroke="#6a7ca2" stroke-width="0.4"/>
<rect x="573.90" y="92.77" width="2.40" height="2.73" fill="#acd3dc" stroke="#6a7ca2" stroke-width="0.4"/>
<rect x="576.30" y="90.04" width="1.90" height="5.46" fill="#acd3dc" stroke="#6a7ca2" stroke-width="0.4"/>
<rect x="578.20" y="84.58" width="2.50" height="10.92" fill="#acd3dc" stroke="#6a7ca2" stroke-width="0.4"/>
<rect x="580.70" y="90.04" width="1.20" height="5.46" fill="#acd3dc" stroke="#6a7ca2" stroke-width="0.4"/>
<rect x="581.90" y="84.58" width="1.30" height="10.92" fill="#acd3dc" stroke="#6a7ca2" stroke-width="0.4"/>
<rect x="583.20" y="81.85" width="1.80" height="13.65" fill="#acd3dc" stroke="#6a7ca2" stroke-width="0.4"/>
<rect x="585.00" y="84.58" width="1.20" height="10.92" fill="#acd3dc" stroke="#6a7ca2" stroke-width="0.4"/>
<rect x="586.20" y="81.85" width="1.00" height="13.65" fill="#acd3dc" stroke="#6a7ca2" stroke-width="0.4"/>
<rect x="587.20" y="84.58" width="1.50" height="10.92" fill="#acd3dc" stroke="#6a7ca2" stroke-width="0.4"/>
<rect x="588.70" y="87.31" width="1.30" height="8.19" fill="#acd3dc" stroke="#6a7ca2" stroke-width="0.4"/>
<rect x="595.50" y="92.77" width="1.90" height="2.73" fill="#acd3dc" stroke="#6a7ca2" stroke-width="0.4"/>
<rect x="597.40" y="87.31" width="1.50" height="8.19" fill="#acd3dc" stroke="#6a7ca2" stroke-width="0.4"/>
<rect x="598.90" y="92.77" width="1.20" height="2.73" fill="#acd3dc" stroke="#6a7ca2" stroke-width="0.4"/>
<rect x="600.10" y="81.85" width="1.00" height="13.65" fill="#acd3dc" stroke="#6a7ca2" stroke-width="0.4"/>
<rect x="601.10" y="87.31" width="1.30" height="8.19" fill="#acd3dc" stroke="#6a7ca2" stroke-width="0.4"/>
<rect x="602.40" y="84.58" width="1.20" height="10.92" fill="#acd3dc" stroke="#6a7ca2" stroke-width="0.4"/>
<rect x="603.60" y="92.77" width="2.20" height="2.73" fill="#acd3dc" stroke="#6a7ca2" stroke-width="0.4"/>
<rect x="617.50" y="92.77" width="1.60" height="2.73" fill="#acd3dc" stroke="#6a7ca2" stroke-width="0.4"/>
<rect x="619.10" y="90.04" width="1.30" height="5.46" fill="#acd3dc" stroke="#6a7ca2" stroke-width="0.4"/>
<rect x="622.80" y="81.85" width="1.30" height="13.65" fill="#acd3dc" stroke="#6a7ca2" stroke-width="0.4"/>
<rect x="624.10" y="92.77" width="1.60" height="2.73" fill="#acd3dc" stroke="#6a7ca2" stroke-width="0.4"/>
<rect x="627.80" y="87.31" width="1.20" height="8.19" fill="#acd3dc" stroke="#6a7ca2" stroke-width="0.4"/>
<rect x="629.00" y="90.04" width="1.90" height="5.46" fill="#acd3dc" stroke="#6a7ca2" stroke-width="0.4"/>
<rect x="630.90" y="87.31" width="1.20" height="8.19" fill="#acd3dc" stroke="#6a7ca2" stroke-width="0.4"/>
<rect x="632.10" y="90.04" width="1.50" height="5.46" fill="#acd3dc" stroke="#6a7ca2" stroke-width="0.4"/>
<rect x="633.60" y="92.77" width="1.60" height="2.73" fill="#acd3dc" stroke="#6a7ca2" stroke-width="0.4"/>
<rect x="635.60" y="87.31" width="1.50" height="8.19" fill="#acd3dc" stroke="#6a7ca2" stroke-width="0.4"/>
<rect x="637.10" y="92.77" width="0.60" height="2.73" fill="#acd3dc" stroke="#6a7ca2" stroke-width="0.4"/>
<rect x="641.80" y="90.04" width="1.30" height="5.46" fill="#acd3dc" stroke="#6a7ca2" stroke-width="0.4"/>
<rect x="643.90" y="87.31" width="1.90" height="8.19" fill="#acd3dc" stroke="#6a7ca2" stroke-width="0.4"/>
<rect x="645.80" y="84.58" width="1.50" height="10.92" fill="#acd3dc" stroke="#6a7ca2" stroke-width="0.4"/>
<rect x="647.30" y="92.77" width="1.60" height="2.73" fill="#acd3dc" stroke="#6a7ca2" stroke-width="0.4"/>
<rect x="648.90" y="90.04" width="1.20" height="5.46" fill="#acd3dc" stroke="#6a7ca2" stroke-width="0.4"/>
<rect x="650.80" y="87.31" width="1.80" height="8.19" fill="#acd3dc" stroke="#6a7ca2" stroke-width="0.4"/>
<rect x="652.60" y="90.04" width="1.30" height="5.46" fill="#acd3dc" stroke="#6a7ca2" stroke-width="0.4"/>
<rect x="653.90" y="87.31" width="1.80" height="8.19" fill="#acd3dc" stroke="#6a7ca2" stroke-width="0.4"/>
<rect x="655.70" y="84.58" width="1.30" height="10.92" fill="#acd3dc" stroke="#6a7ca2" stroke-width="0.4"/>
<rect x="657.00" y="81.85" width="2.40" height="13.65" fill="#acd3dc" stroke="#6a7ca2" stroke-width="0.4"/>
<rect x="659.40" y="92.77" width="3.10" height="2.73" fill="#acd3dc" stroke="#6a7ca2" stroke-width="0.4"/>
<rect x="662.50" y="90.04" width="1.90" height="5.46" fill="#acd3dc" stroke="#6a7ca2" stroke-width="0.4"/>
<rect x="664.40" y="92.77" width="2.50" height="2.73" fill="#acd3dc" stroke="#6a7ca2" stroke-width="0.4"/>
<path d="M349.50 95.5v1.9M353.50 95.5v1.9M357.50 95.5v1.9M361.50 95.5v1.9M365.50 95.5v1.9M369.50 95.5v1.9M373.50 95.5v1.9M377.50 95.5v1.9M381.50 95.5v1.9M385.50 95.5v1.9M389.50 95.5v1.9M393.50 95.5v1.9M397.50 95.5v1.9M401.50 95.5v1.9M405.50 95.5v1.9M409.50 95.5v1.9M413.50 95.5v1.9M417.50 95.5v1.9M421.50 95.5v1.9M425.50 95.5v1.9M429.50 95.5v1.9M433.50 95.5v1.9M437.50 95.5v1.9M441.50 95.5v1.9M445.50 95.5v1.9M449.50 95.5v1.9M453.50 95.5v1.9M457.50 95.5v1.9M461.50 95.5v1.9M465.50 95.5v1.9M469.50 95.5v1.9M473.50 95.5v1.9M477.50 95.5v1.9M481.50 95.5v1.9M485.50 95.5v1.9M489.50 95.5v1.9M493.50 95.5v1.9M497.50 95.5v1.9M501.50 95.5v1.9M505.50 95.5v1.9M509.50 95.5v1.9M513.50 95.5v1.9M517.50 95.5v1.9M521.50 95.5v1.9M525.50 95.5v1.9M529.50 95.5v1.9M533.50 95.5v1.9M537.50 95.5v1.9M541.50 95.5v1.9M545.50 95.5v1.9M549.50 95.5v1.9M553.50 95.5v1.9M557.50 95.5v1.9M561.50 95.5v1.9M565.50 95.5v1.9M569.50 95.5v1.9M573.50 95.5v1.9M577.50 95.5v1.9M581.50 95.5v1.9M585.50 95.5v1.9M589.50 95.5v1.9M593.50 95.5v1.9M597.50 95.5v1.9M601.50 95.5v1.9M605.50 95.5v1.9M609.50 95.5v1.9M613.50 95.5v1.9M617.50 95.5v1.9M621.50 95.5v1.9M625.50 95.5v1.9M629.50 95.5v1.9M633.50 95.5v1.9M637.50 95.5v1.9M641.50 95.5v1.9M645.50 95.5v1.9M649.50 95.5v1.9M653.50 95.5v1.9M657.50 95.5v1.9M661.50 95.5v1.9M665.50 95.5v1.9M669.50 95.5v1.9" stroke="#1b1b5e" stroke-width="0.6"/>
<path d="M349.50 95.5v3M389.50 95.5v3M429.50 95.5v3M469.50 95.5v3M509.50 95.5v3M549.50 95.5v3M589.50 95.5v3M629.50 95.5v3M669.50 95.5v3" stroke="#1b1b5e" stroke-width="0.7"/>
<line x1="349.0" y1="95.5" x2="669.5" y2="95.5" stroke="#1b1b5e" stroke-width="1.2"/>
<text x="348.60" y="105.7" font-size="8" text-anchor="middle" fill="#222">-1</text>
<text x="387.70" y="105.7" font-size="8" text-anchor="middle" fill="#222">-0.5</text>
<text x="429.50" y="105.7" font-size="8" text-anchor="middle" fill="#222">0</text>
<text x="469.50" y="105.7" font-size="8" text-anchor="middle" fill="#222">0.5</text>
<text x="509.50" y="105.7" font-size="8" text-anchor="middle" fill="#222">1</text>
<text x="549.50" y="105.7" font-size="8" text-anchor="middle" fill="#222">1.5</text>
<text x="589.50" y="105.7" font-size="8" text-anchor="middle" fill="#222">2</text>
<text x="629.50" y="105.7" font-size="8" text-anchor="middle" fill="#222">2.5</text>
<text x="669.50" y="105.7" font-size="8" text-anchor="middle" fill="#222">3</text>
<rect x="342.2" y="112.6" width="74.9" height="15.1" rx="3" ry="3" fill="#fff" stroke="#444" stroke-width="0.9"/>
<text x="345.0" y="122.7" font-size="9" textLength="68.9" lengthAdjust="spacingAndGlyphs" fill="#111">POST INJECTION</text>
<line x1="429" y1="121.1" x2="550" y2="121.1" stroke="#3a9626" stroke-width="0.9"/>
<path d="M430.00 120.40V121.80M430.43 119.48V122.47M430.85 119.12V123.36M431.28 119.06V124.57M431.71 118.55V124.81M432.14 117.07V123.75M432.56 118.47V125.76M432.99 115.77V126.15M433.42 116.64V125.94M433.85 116.03V126.94M434.27 116.85V127.85M434.70 116.12V124.35M435.13 117.00V126.65M435.55 113.80V128.17M435.98 115.82V124.17M436.41 115.24V123.97M436.84 118.02V125.49M437.26 118.02V124.20M437.69 118.86V124.50M438.12 119.37V124.19M438.55 119.17V123.38M438.97 119.99V122.06M439.40 120.40V121.80M442.50 120.40V121.80M442.96 118.66V123.54M443.43 114.54V128.01M443.89 115.03V125.45M444.35 115.34V128.14M444.81 117.16V127.93M445.27 115.73V126.71M445.74 118.53V124.42M446.20 120.40V121.80M451.70 120.40V121.80M452.12 119.13V123.59M452.55 117.14V126.69M452.98 114.92V128.25M453.40 115.45V128.21M453.82 114.91V131.03M454.25 116.01V129.33M454.68 114.17V130.41M455.10 115.18V128.91M455.52 116.00V128.57M455.95 115.50V127.19M456.38 119.00V124.60M456.80 120.40V121.80M458.40 120.40V121.80M458.84 119.33V122.78M459.28 119.17V122.98M459.72 118.14V125.79M460.16 117.55V123.82M460.60 113.96V124.51M461.04 115.61V125.86M461.48 117.42V125.49M461.92 117.05V128.21M462.36 117.25V125.73M462.80 114.97V126.12M463.24 116.46V124.54M463.68 117.38V125.13M464.12 117.27V124.06M464.56 119.34V122.22M465.00 120.40V121.80M468.00 120.40V121.80M468.42 120.29V121.80M468.85 119.88V122.02M469.27 119.61V122.46M469.69 119.08V122.57M470.11 119.41V123.08M470.54 117.95V122.92M470.96 117.31V123.14M471.38 117.74V123.74M471.80 117.37V123.37M472.23 118.22V123.79M472.65 116.32V123.91M473.07 116.97V125.24M473.50 118.03V123.80M473.92 118.05V124.21M474.34 117.56V123.00M474.76 119.13V123.71M475.19 119.00V123.38M475.61 119.04V122.83M476.03 119.75V123.08M476.45 119.57V122.70M476.88 120.11V122.07M477.30 120.40V121.80M477.30 120.40V121.80M477.73 116.16V125.48M478.16 115.93V131.15M478.59 112.23V130.85M479.01 112.97V128.61M479.44 109.99V127.73M479.87 116.10V125.74M480.30 120.40V121.80M483.80 120.40V121.80M484.24 118.66V123.93M484.68 116.26V124.17M485.12 116.57V126.92M485.56 114.03V131.46M486.00 115.14V127.12M486.44 113.56V127.58M486.88 109.40V128.20M487.32 112.51V129.69M487.76 111.28V128.75M488.20 108.44V130.64M488.64 109.94V131.40M489.08 113.38V136.33M489.52 106.50V131.68M489.96 111.34V129.21M490.40 114.63V127.16M490.84 112.27V126.35M491.28 116.43V125.88M491.72 117.95V126.30M492.16 118.14V123.84M492.60 120.40V121.80M497.30 120.40V121.80M497.76 119.55V124.73M498.21 118.13V127.18M498.67 116.34V127.25M499.12 115.22V130.41M499.58 117.88V127.34M500.03 118.08V129.09M500.49 115.75V125.75M500.94 118.45V126.81M501.40 120.40V121.80M507.00 120.40V121.80M507.44 119.00V122.77M507.89 118.13V123.26M508.33 116.64V126.47M508.78 116.51V125.19M509.22 115.83V126.02M509.67 116.05V124.05M510.11 118.59V124.42M510.56 119.48V122.42M511.00 120.40V121.80M513.00 120.40V121.80M513.44 119.78V122.59M513.88 118.09V124.33M514.31 117.07V124.41M514.75 115.20V125.79M515.19 114.89V127.71M515.62 116.29V128.94M516.06 112.76V124.83M516.50 113.80V127.90M516.94 115.46V129.08M517.38 114.33V126.82M517.81 116.95V126.34M518.25 115.65V124.24M518.69 117.34V124.39M519.12 117.41V123.75M519.56 119.77V123.62M520.00 120.40V121.80M523.30 120.40V121.80M523.73 120.21V121.80M524.16 119.80V122.07M524.59 118.79V122.74M525.03 117.83V122.94M525.46 118.11V123.74M525.89 118.51V123.69M526.32 116.44V123.41M526.75 118.49V124.89M527.18 118.03V123.72M527.62 116.81V124.27M528.05 117.52V123.76M528.48 117.82V123.87M528.91 118.95V122.84M529.34 118.05V123.50M529.77 117.52V123.19M530.21 118.67V123.00M530.64 119.46V122.32M531.07 120.03V121.80M531.50 120.40V121.80M531.50 120.40V121.80M531.93 116.80V124.87M532.36 112.96V128.23M532.79 113.63V128.92M533.21 114.35V130.96M533.64 115.85V129.14M534.07 115.83V125.81M534.50 120.40V121.80M538.60 120.40V121.80M539.04 118.21V123.16M539.48 116.17V127.48M539.91 113.81V128.40M540.35 113.09V129.85M540.79 110.85V128.97M541.23 113.68V127.74M541.67 113.42V132.19M542.10 108.38V132.53M542.54 109.15V134.55M542.98 112.84V129.82M543.42 108.56V133.33M543.86 109.71V130.76M544.30 111.21V132.34M544.73 108.17V128.15M545.17 112.88V127.87M545.61 111.39V131.14M546.05 113.75V128.87M546.49 115.81V126.23M546.92 117.83V125.16M547.36 119.10V123.30M547.80 120.40V121.80" stroke="#3a9626" stroke-width="0.8" fill="none"/>
<line x1="349.3" y1="140.20000000000002" x2="349.3" y2="167.8" stroke="#333" stroke-width="0.9"/>
<path d="M348.3 140.80H350.2M348.3 142.13H350.2M348.3 143.46H350.2M348.3 144.79H350.2M348.3 146.12H350.2M348.3 147.45H350.2M348.3 148.78H350.2M348.3 150.11H350.2M348.3 151.44H350.2M348.3 152.77H350.2M348.3 154.10H350.2M348.3 155.43H350.2M348.3 156.76H350.2M348.3 158.09H350.2M348.3 159.42H350.2M348.3 160.75H350.2M348.3 162.08H350.2M348.3 163.41H350.2M348.3 164.74H350.2M348.3 166.07H350.2M348.3 167.40H350.2" stroke="#333" stroke-width="0.5"/>
<path d="M346.5 140.80H349.3M346.5 154.10H349.3M346.5 167.40H349.3" stroke="#333" stroke-width="0.8"/>
<text x="345.5" y="143.0" font-size="7.8" text-anchor="end" fill="#222">5</text>
<text x="345.5" y="155.0" font-size="7.8" text-anchor="end" fill="#222">2.5</text>
<text x="345.5" y="167.0" font-size="7.8" text-anchor="end" fill="#222">0</text>
<line x1="349.3" y1="171.00000000000003" x2="349.3" y2="198.9" stroke="#333" stroke-width="0.9"/>
<path d="M348.3 198.90H350.2M348.3 196.17H350.2M348.3 193.44H350.2M348.3 190.71H350.2M348.3 187.98H350.2M348.3 185.25H350.2M348.3 182.52H350.2M348.3 179.79H350.2M348.3 177.06H350.2M348.3 174.33H350.2M348.3 171.60H350.2" stroke="#333" stroke-width="0.5"/>
<path d="M346.5 171.60H349.3M346.5 185.25H349.3M346.5 198.90H349.3" stroke="#333" stroke-width="0.8"/>
<text x="343.8" y="175.1" font-size="7.4" text-anchor="end" fill="#222">10</text>
<text x="343.8" y="186.9" font-size="7.4" text-anchor="end" fill="#222">5</text>
<text x="343.8" y="199.1" font-size="7.4" text-anchor="end" fill="#222">0</text>
<text transform="translate(327.6 153.6) rotate(-90)" font-size="8.6" text-anchor="middle" fill="#222">Trial</text>
<text transform="translate(322.9 185.6) rotate(-90)" font-size="8.6" text-anchor="middle" fill="#222">Spike</text>
<text transform="translate(332.4 185.4) rotate(-90)" font-size="8.6" text-anchor="middle" fill="#222">count</text>
<path d="M478.7 140.2v2.0M480.2 140.2v2.0M481.7 140.2v2.0M487.7 140.2v2.0M581.6 140.2v2.0M583.1 140.2v2.0M562.8 150.9v2.0M564.3 150.9v2.0M565.8 150.9v2.0M567.3 150.9v2.0M568.8 150.9v2.0M570.3 150.9v2.0M571.8 150.9v2.0M646.0 150.9v2.0M647.5 150.9v2.0M649.0 150.9v2.0M650.5 150.9v2.0M652.0 150.9v2.0M364.3 156.2v2.0M366.7 156.2v2.0M376.3 156.2v2.0M380.7 156.2v2.0M408.9 156.2v2.0M410.4 156.2v2.0M411.9 156.2v2.0M567.7 161.6v2.0M569.2 161.6v2.0M570.7 161.6v2.0M610.3 161.6v2.0" stroke="#1a1a1a" stroke-width="0.65"/>
<rect x="364.00" y="196.13" width="1.20" height="2.77" fill="#acd3dc" stroke="#6a7ca2" stroke-width="0.4"/>
<rect x="366.20" y="196.13" width="1.20" height="2.77" fill="#acd3dc" stroke="#6a7ca2" stroke-width="0.4"/>
<rect x="376.00" y="196.13" width="1.20" height="2.77" fill="#acd3dc" stroke="#6a7ca2" stroke-width="0.4"/>
<rect x="380.20" y="196.13" width="1.20" height="2.77" fill="#acd3dc" stroke="#6a7ca2" stroke-width="0.4"/>
<rect x="408.60" y="193.36" width="1.20" height="5.54" fill="#acd3dc" stroke="#6a7ca2" stroke-width="0.4"/>
<rect x="409.80" y="196.13" width="2.20" height="2.77" fill="#acd3dc" stroke="#6a7ca2" stroke-width="0.4"/>
<rect x="478.40" y="187.82" width="1.20" height="11.08" fill="#acd3dc" stroke="#6a7ca2" stroke-width="0.4"/>
<rect x="479.60" y="184.22" width="1.20" height="14.68" fill="#acd3dc" stroke="#6a7ca2" stroke-width="0.4"/>
<rect x="480.80" y="190.59" width="1.60" height="8.31" fill="#acd3dc" stroke="#6a7ca2" stroke-width="0.4"/>
<rect x="487.20" y="196.13" width="1.20" height="2.77" fill="#acd3dc" stroke="#6a7ca2" stroke-width="0.4"/>
<rect x="562.80" y="189.21" width="2.40" height="9.70" fill="#acd3dc" stroke="#6a7ca2" stroke-width="0.4"/>
<rect x="565.20" y="186.99" width="2.00" height="11.91" fill="#acd3dc" stroke="#6a7ca2" stroke-width="0.4"/>
<rect x="567.20" y="190.04" width="1.20" height="8.86" fill="#acd3dc" stroke="#6a7ca2" stroke-width="0.4"/>
<rect x="568.40" y="181.17" width="1.70" height="17.73" fill="#acd3dc" stroke="#6a7ca2" stroke-width="0.4"/>
<rect x="570.10" y="183.94" width="1.60" height="14.96" fill="#acd3dc" stroke="#6a7ca2" stroke-width="0.4"/>
<rect x="581.60" y="192.81" width="2.40" height="6.09" fill="#acd3dc" stroke="#6a7ca2" stroke-width="0.4"/>
<rect x="609.80" y="195.58" width="1.20" height="3.32" fill="#acd3dc" stroke="#6a7ca2" stroke-width="0.4"/>
<rect x="646.00" y="183.94" width="1.70" height="14.96" fill="#acd3dc" stroke="#6a7ca2" stroke-width="0.4"/>
<rect x="647.70" y="190.04" width="1.90" height="8.86" fill="#acd3dc" stroke="#6a7ca2" stroke-width="0.4"/>
<rect x="649.60" y="193.64" width="1.40" height="5.26" fill="#acd3dc" stroke="#6a7ca2" stroke-width="0.4"/>
<rect x="651.00" y="196.13" width="1.00" height="2.77" fill="#acd3dc" stroke="#6a7ca2" stroke-width="0.4"/>
<path d="M349.50 198.9v1.9M353.50 198.9v1.9M357.50 198.9v1.9M361.50 198.9v1.9M365.50 198.9v1.9M369.50 198.9v1.9M373.50 198.9v1.9M377.50 198.9v1.9M381.50 198.9v1.9M385.50 198.9v1.9M389.50 198.9v1.9M393.50 198.9v1.9M397.50 198.9v1.9M401.50 198.9v1.9M405.50 198.9v1.9M409.50 198.9v1.9M413.50 198.9v1.9M417.50 198.9v1.9M421.50 198.9v1.9M425.50 198.9v1.9M429.50 198.9v1.9M433.50 198.9v1.9M437.50 198.9v1.9M441.50 198.9v1.9M445.50 198.9v1.9M449.50 198.9v1.9M453.50 198.9v1.9M457.50 198.9v1.9M461.50 198.9v1.9M465.50 198.9v1.9M469.50 198.9v1.9M473.50 198.9v1.9M477.50 198.9v1.9M481.50 198.9v1.9M485.50 198.9v1.9M489.50 198.9v1.9M493.50 198.9v1.9M497.50 198.9v1.9M501.50 198.9v1.9M505.50 198.9v1.9M509.50 198.9v1.9M513.50 198.9v1.9M517.50 198.9v1.9M521.50 198.9v1.9M525.50 198.9v1.9M529.50 198.9v1.9M533.50 198.9v1.9M537.50 198.9v1.9M541.50 198.9v1.9M545.50 198.9v1.9M549.50 198.9v1.9M553.50 198.9v1.9M557.50 198.9v1.9M561.50 198.9v1.9M565.50 198.9v1.9M569.50 198.9v1.9M573.50 198.9v1.9M577.50 198.9v1.9M581.50 198.9v1.9M585.50 198.9v1.9M589.50 198.9v1.9M593.50 198.9v1.9M597.50 198.9v1.9M601.50 198.9v1.9M605.50 198.9v1.9M609.50 198.9v1.9M613.50 198.9v1.9M617.50 198.9v1.9M621.50 198.9v1.9M625.50 198.9v1.9M629.50 198.9v1.9M633.50 198.9v1.9M637.50 198.9v1.9M641.50 198.9v1.9M645.50 198.9v1.9M649.50 198.9v1.9M653.50 198.9v1.9M657.50 198.9v1.9M661.50 198.9v1.9M665.50 198.9v1.9M669.50 198.9v1.9" stroke="#1b1b5e" stroke-width="0.6"/>
<path d="M349.50 198.9v3M389.50 198.9v3M429.50 198.9v3M469.50 198.9v3M509.50 198.9v3M549.50 198.9v3M589.50 198.9v3M629.50 198.9v3M669.50 198.9v3" stroke="#1b1b5e" stroke-width="0.7"/>
<line x1="349.0" y1="198.9" x2="669.5" y2="198.9" stroke="#1b1b5e" stroke-width="1.2"/>
<text x="348.60" y="209.1" font-size="8" text-anchor="middle" fill="#222">-1</text>
<text x="387.70" y="209.1" font-size="8" text-anchor="middle" fill="#222">-0.5</text>
<text x="429.50" y="209.1" font-size="8" text-anchor="middle" fill="#222">0</text>
<text x="469.50" y="209.1" font-size="8" text-anchor="middle" fill="#222">0.5</text>
<text x="509.50" y="209.1" font-size="8" text-anchor="middle" fill="#222">1</text>
<text x="549.50" y="209.1" font-size="8" text-anchor="middle" fill="#222">1.5</text>
<text x="589.50" y="209.1" font-size="8" text-anchor="middle" fill="#222">2</text>
<text x="629.50" y="209.1" font-size="8" text-anchor="middle" fill="#222">2.5</text>
<text x="669.50" y="209.1" font-size="8" text-anchor="middle" fill="#222">3</text>
<text x="506.5" y="226" font-size="11.6" text-anchor="middle" fill="#111">Time (seconds)</text>
<line x1="181" y1="238.4" x2="181" y2="459" stroke="#ff1a1a" stroke-width="3.6" stroke-dasharray="12.7 13.6" stroke-dashoffset="2.3"/>
<rect x="109.30" y="301.20" width="8.6" height="8.6" fill="#EBD98A" fill-opacity="0.45"/>
<rect x="109.30" y="314.20" width="8.6" height="8.6" fill="#EBD98A" fill-opacity="0.45"/>
<rect x="109.30" y="413.10" width="8.6" height="8.6" fill="#EBD98A" fill-opacity="0.45"/>
<rect x="109.30" y="420.70" width="8.6" height="8.6" fill="#EBD98A" fill-opacity="0.45"/>
<rect x="109.30" y="433.10" width="8.6" height="8.6" fill="#EBD98A" fill-opacity="0.45"/>
<rect x="207.30" y="434.70" width="8.6" height="8.6" fill="#EBD98A" fill-opacity="0.45"/>
<rect x="207.30" y="439.70" width="8.6" height="8.6" fill="#EBD98A" fill-opacity="0.45"/>
<rect x="207.30" y="445.20" width="8.6" height="8.6" fill="#EBD98A" fill-opacity="0.45"/>
<rect x="207.30" y="432.70" width="8.6" height="8.6" fill="#EBD98A" fill-opacity="0.45"/>
<rect x="305.30" y="424.50" width="8.6" height="8.6" fill="#EBD98A" fill-opacity="0.45"/>
<rect x="305.30" y="433.70" width="8.6" height="8.6" fill="#EBD98A" fill-opacity="0.45"/>
<rect x="305.30" y="437.70" width="8.6" height="8.6" fill="#EBD98A" fill-opacity="0.45"/>
<rect x="305.30" y="451.00" width="8.6" height="8.6" fill="#EBD98A" fill-opacity="0.45"/>
<rect x="403.30" y="392.70" width="8.6" height="8.6" fill="#EBD98A" fill-opacity="0.45"/>
<rect x="403.30" y="399.70" width="8.6" height="8.6" fill="#EBD98A" fill-opacity="0.45"/>
<rect x="403.30" y="406.70" width="8.6" height="8.6" fill="#EBD98A" fill-opacity="0.45"/>
<rect x="403.30" y="413.70" width="8.6" height="8.6" fill="#EBD98A" fill-opacity="0.45"/>
<rect x="403.30" y="421.70" width="8.6" height="8.6" fill="#EBD98A" fill-opacity="0.45"/>
<rect x="501.30" y="305.10" width="8.6" height="8.6" fill="#EBD98A" fill-opacity="0.45"/>
<rect x="501.30" y="333.40" width="8.6" height="8.6" fill="#EBD98A" fill-opacity="0.45"/>
<rect x="501.30" y="344.00" width="8.6" height="8.6" fill="#EBD98A" fill-opacity="0.45"/>
<rect x="501.30" y="411.50" width="8.6" height="8.6" fill="#EBD98A" fill-opacity="0.45"/>
<rect x="501.30" y="451.70" width="8.6" height="8.6" fill="#EBD98A" fill-opacity="0.45"/>
<circle cx="125.80" cy="270.80" r="4.3" fill="#B4E2F7" fill-opacity="0.42"/>
<circle cx="125.80" cy="296.70" r="4.3" fill="#B4E2F7" fill-opacity="0.42"/>
<circle cx="125.80" cy="328.00" r="4.3" fill="#B4E2F7" fill-opacity="0.42"/>
<circle cx="125.80" cy="333.60" r="4.3" fill="#B4E2F7" fill-opacity="0.42"/>
<circle cx="125.80" cy="342.00" r="4.3" fill="#B4E2F7" fill-opacity="0.42"/>
<circle cx="223.80" cy="426.30" r="4.3" fill="#B4E2F7" fill-opacity="0.42"/>
<circle cx="223.80" cy="452.00" r="4.3" fill="#B4E2F7" fill-opacity="0.42"/>
<circle cx="223.80" cy="457.00" r="4.3" fill="#B4E2F7" fill-opacity="0.42"/>
<circle cx="321.80" cy="406.80" r="4.3" fill="#B4E2F7" fill-opacity="0.42"/>
<circle cx="321.80" cy="416.70" r="4.3" fill="#B4E2F7" fill-opacity="0.42"/>
<circle cx="321.80" cy="422.00" r="4.3" fill="#B4E2F7" fill-opacity="0.42"/>
<circle cx="321.80" cy="428.30" r="4.3" fill="#B4E2F7" fill-opacity="0.42"/>
<circle cx="419.80" cy="372.40" r="4.3" fill="#B4E2F7" fill-opacity="0.42"/>
<circle cx="419.80" cy="389.90" r="4.3" fill="#B4E2F7" fill-opacity="0.42"/>
<circle cx="419.80" cy="428.70" r="4.3" fill="#B4E2F7" fill-opacity="0.42"/>
<circle cx="517.80" cy="290.30" r="4.3" fill="#B4E2F7" fill-opacity="0.42"/>
<circle cx="517.80" cy="384.90" r="4.3" fill="#B4E2F7" fill-opacity="0.42"/>
<circle cx="517.80" cy="432.70" r="4.3" fill="#B4E2F7" fill-opacity="0.42"/>
<circle cx="517.80" cy="453.60" r="4.3" fill="#B4E2F7" fill-opacity="0.42"/>
<path d="M138.30 274.50L143.80 283.80L132.80 283.80Z" fill="#A5EACB" fill-opacity="0.42"/>
<path d="M138.30 300.30L143.80 309.60L132.80 309.60Z" fill="#A5EACB" fill-opacity="0.42"/>
<path d="M138.30 310.30L143.80 319.60L132.80 319.60Z" fill="#A5EACB" fill-opacity="0.42"/>
<path d="M138.30 349.30L143.80 358.60L132.80 358.60Z" fill="#A5EACB" fill-opacity="0.42"/>
<path d="M138.30 356.80L143.80 366.10L132.80 366.10Z" fill="#A5EACB" fill-opacity="0.42"/>
<path d="M236.30 382.30L241.80 391.60L230.80 391.60Z" fill="#A5EACB" fill-opacity="0.42"/>
<path d="M236.30 410.60L241.80 419.90L230.80 419.90Z" fill="#A5EACB" fill-opacity="0.42"/>
<path d="M236.30 415.30L241.80 424.60L230.80 424.60Z" fill="#A5EACB" fill-opacity="0.42"/>
<path d="M236.30 449.30L241.80 458.60L230.80 458.60Z" fill="#A5EACB" fill-opacity="0.42"/>
<path d="M334.30 373.50L339.80 382.80L328.80 382.80Z" fill="#A5EACB" fill-opacity="0.42"/>
<path d="M334.30 393.10L339.80 402.40L328.80 402.40Z" fill="#A5EACB" fill-opacity="0.42"/>
<path d="M334.30 413.20L339.80 422.50L328.80 422.50Z" fill="#A5EACB" fill-opacity="0.42"/>
<path d="M334.30 417.30L339.80 426.60L328.80 426.60Z" fill="#A5EACB" fill-opacity="0.42"/>
<path d="M432.30 379.70L437.80 389.00L426.80 389.00Z" fill="#A5EACB" fill-opacity="0.42"/>
<path d="M432.30 384.80L437.80 394.10L426.80 394.10Z" fill="#A5EACB" fill-opacity="0.42"/>
<path d="M432.30 389.80L437.80 399.10L426.80 399.10Z" fill="#A5EACB" fill-opacity="0.42"/>
<path d="M432.30 397.80L437.80 407.10L426.80 407.10Z" fill="#A5EACB" fill-opacity="0.42"/>
<path d="M432.30 404.10L437.80 413.40L426.80 413.40Z" fill="#A5EACB" fill-opacity="0.42"/>
<path d="M530.30 347.40L535.80 356.70L524.80 356.70Z" fill="#A5EACB" fill-opacity="0.42"/>
<path d="M530.30 382.20L535.80 391.50L524.80 391.50Z" fill="#A5EACB" fill-opacity="0.42"/>
<path d="M530.30 410.60L535.80 419.90L524.80 419.90Z" fill="#A5EACB" fill-opacity="0.42"/>
<path d="M530.30 449.30L535.80 458.60L524.80 458.60Z" fill="#A5EACB" fill-opacity="0.42"/>
<path d="M150.20 409.10L154.60 413.50L150.20 417.90L145.80 413.50Z" fill="#959595" fill-opacity="0.42"/>
<path d="M150.20 419.50L154.60 423.90L150.20 428.30L145.80 423.90Z" fill="#959595" fill-opacity="0.42"/>
<path d="M150.20 422.60L154.60 427.00L150.20 431.40L145.80 427.00Z" fill="#959595" fill-opacity="0.42"/>
<path d="M150.20 432.60L154.60 437.00L150.20 441.40L145.80 437.00Z" fill="#959595" fill-opacity="0.42"/>
<path d="M248.20 422.20L252.60 426.60L248.20 431.00L243.80 426.60Z" fill="#959595" fill-opacity="0.42"/>
<path d="M248.20 448.20L252.60 452.60L248.20 457.00L243.80 452.60Z" fill="#959595" fill-opacity="0.42"/>
<path d="M248.20 453.10L252.60 457.50L248.20 461.90L243.80 457.50Z" fill="#959595" fill-opacity="0.42"/>
<path d="M346.20 418.60L350.60 423.00L346.20 427.40L341.80 423.00Z" fill="#959595" fill-opacity="0.42"/>
<path d="M346.20 441.90L350.60 446.30L346.20 450.70L341.80 446.30Z" fill="#959595" fill-opacity="0.42"/>
<path d="M346.20 449.60L350.60 454.00L346.20 458.40L341.80 454.00Z" fill="#959595" fill-opacity="0.42"/>
<path d="M444.20 370.10L448.60 374.50L444.20 378.90L439.80 374.50Z" fill="#959595" fill-opacity="0.42"/>
<path d="M444.20 395.40L448.60 399.80L444.20 404.20L439.80 399.80Z" fill="#959595" fill-opacity="0.42"/>
<path d="M444.20 409.00L448.60 413.40L444.20 417.80L439.80 413.40Z" fill="#959595" fill-opacity="0.42"/>
<path d="M444.20 428.30L448.60 432.70L444.20 437.10L439.80 432.70Z" fill="#959595" fill-opacity="0.42"/>
<path d="M444.20 449.20L448.60 453.60L444.20 458.00L439.80 453.60Z" fill="#959595" fill-opacity="0.42"/>
<path d="M542.20 411.40L546.60 415.80L542.20 420.20L537.80 415.80Z" fill="#959595" fill-opacity="0.42"/>
<path d="M542.20 426.30L546.60 430.70L542.20 435.10L537.80 430.70Z" fill="#959595" fill-opacity="0.42"/>
<path d="M542.20 443.20L546.60 447.60L542.20 452.00L537.80 447.60Z" fill="#959595" fill-opacity="0.42"/>
<path d="M542.20 452.10L546.60 456.50L542.20 460.90L537.80 456.50Z" fill="#959595" fill-opacity="0.42"/>
<polyline points="130.3,380.8 228.4,443.0 325.1,441.5 422.3,410.8 521.6,373.9" fill="none" stroke="#E3A22E" stroke-width="1.1"/>
<polyline points="131.4,314.7 227.4,450.3 327.3,417.6 424.5,404.8 523.0,404.2" fill="none" stroke="#62B6E6" stroke-width="1.1"/>
<polyline points="132.7,325.3 230.7,430.5 328.4,408.0 426.9,397.0 524.8,406.5" fill="none" stroke="#3CA874" stroke-width="1.1"/>
<polyline points="133.5,426.6 232.0,449.9 330.2,439.1 428.9,414.2 525.5,442.7" fill="none" stroke="#111" stroke-width="1.1"/>
<path d="M130.3 352.4V409.2M128.0 352.4h4.6M128.0 409.2h4.6" stroke="#E3A22E" stroke-width="1.6" fill="none"/>
<rect x="126.00" y="376.50" width="8.6" height="8.6" fill="#E3A22E" fill-opacity="1"/>
<path d="M228.4 439.5V446.5M226.1 439.5h4.6M226.1 446.5h4.6" stroke="#E3A22E" stroke-width="1.6" fill="none"/>
<rect x="224.10" y="438.70" width="8.6" height="8.6" fill="#E3A22E" fill-opacity="1"/>
<path d="M325.1 438.5V444.5M322.8 438.5h4.6M322.8 444.5h4.6" stroke="#E3A22E" stroke-width="1.6" fill="none"/>
<rect x="320.80" y="437.20" width="8.6" height="8.6" fill="#E3A22E" fill-opacity="1"/>
<path d="M422.3 405V416M420.0 405h4.6M420.0 416h4.6" stroke="#E3A22E" stroke-width="1.6" fill="none"/>
<rect x="418.00" y="406.50" width="8.6" height="8.6" fill="#E3A22E" fill-opacity="1"/>
<path d="M521.6 346.7V402.8M519.3 346.7h4.6M519.3 402.8h4.6" stroke="#E3A22E" stroke-width="1.6" fill="none"/>
<rect x="517.30" y="369.60" width="8.6" height="8.6" fill="#E3A22E" fill-opacity="1"/>
<path d="M131.4 301.2V328.5M129.1 301.2h4.6M129.1 328.5h4.6" stroke="#62B6E6" stroke-width="1.6" fill="none"/>
<circle cx="131.40" cy="314.70" r="4.5" fill="#62B6E6" fill-opacity="1"/>
<path d="M227.4 444V456M225.1 444h4.6M225.1 456h4.6" stroke="#62B6E6" stroke-width="1.6" fill="none"/>
<circle cx="227.40" cy="450.30" r="4.5" fill="#62B6E6" fill-opacity="1"/>
<path d="M327.3 412V423M325.0 412h4.6M325.0 423h4.6" stroke="#62B6E6" stroke-width="1.6" fill="none"/>
<circle cx="327.30" cy="417.60" r="4.5" fill="#62B6E6" fill-opacity="1"/>
<path d="M424.5 399V410M422.2 399h4.6M422.2 410h4.6" stroke="#62B6E6" stroke-width="1.6" fill="none"/>
<circle cx="424.50" cy="404.80" r="4.5" fill="#62B6E6" fill-opacity="1"/>
<path d="M523.0 373V435.3M520.7 373h4.6M520.7 435.3h4.6" stroke="#62B6E6" stroke-width="1.6" fill="none"/>
<circle cx="523.00" cy="404.20" r="4.5" fill="#62B6E6" fill-opacity="1"/>
<path d="M132.7 310.5V341.2M130.4 310.5h4.6M130.4 341.2h4.6" stroke="#3CA874" stroke-width="1.6" fill="none"/>
<path d="M132.70 319.57L138.10 328.17L127.30 328.17Z" fill="#3CA874" fill-opacity="1"/>
<path d="M230.7 416.7V444.5M228.4 416.7h4.6M228.4 444.5h4.6" stroke="#3CA874" stroke-width="1.6" fill="none"/>
<path d="M230.70 424.77L236.10 433.37L225.30 433.37Z" fill="#3CA874" fill-opacity="1"/>
<path d="M328.4 399.6V415.8M326.1 399.6h4.6M326.1 415.8h4.6" stroke="#3CA874" stroke-width="1.6" fill="none"/>
<path d="M328.40 402.27L333.80 410.87L323.00 410.87Z" fill="#3CA874" fill-opacity="1"/>
<path d="M426.9 391V403M424.6 391h4.6M424.6 403h4.6" stroke="#3CA874" stroke-width="1.6" fill="none"/>
<path d="M426.90 391.27L432.30 399.87L421.50 399.87Z" fill="#3CA874" fill-opacity="1"/>
<path d="M524.8 389.9V424.1M522.5 389.9h4.6M522.5 424.1h4.6" stroke="#3CA874" stroke-width="1.6" fill="none"/>
<path d="M524.80 400.77L530.20 409.37L519.40 409.37Z" fill="#3CA874" fill-opacity="1"/>
<path d="M133.5 422.7V430.7M131.2 422.7h4.6M131.2 430.7h4.6" stroke="#000" stroke-width="1.6" fill="none"/>
<path d="M133.50 422.40L137.70 426.60L133.50 430.80L129.30 426.60Z" fill="#000" fill-opacity="1"/>
<path d="M232.0 443V457M229.7 443h4.6M229.7 457h4.6" stroke="#000" stroke-width="1.6" fill="none"/>
<path d="M232.00 445.70L236.20 449.90L232.00 454.10L227.80 449.90Z" fill="#000" fill-opacity="1"/>
<path d="M330.2 432.8V445.4M327.9 432.8h4.6M327.9 445.4h4.6" stroke="#000" stroke-width="1.6" fill="none"/>
<path d="M330.20 434.90L334.40 439.10L330.20 443.30L326.00 439.10Z" fill="#000" fill-opacity="1"/>
<path d="M428.9 401.4V428.7M426.6 401.4h4.6M426.6 428.7h4.6" stroke="#000" stroke-width="1.6" fill="none"/>
<path d="M428.90 410.00L433.10 414.20L428.90 418.40L424.70 414.20Z" fill="#000" fill-opacity="1"/>
<path d="M525.5 434.3V451.2M523.2 434.3h4.6M523.2 451.2h4.6" stroke="#000" stroke-width="1.6" fill="none"/>
<path d="M525.50 438.50L529.70 442.70L525.50 446.90L521.30 442.70Z" fill="#000" fill-opacity="1"/>
<path d="M73.4 238.4V459.2H481.2M498.7 459.2H583" fill="none" stroke="#444" stroke-width="1.3"/>
<path d="M71.2 459.00H73.4M71.2 415.66H73.4M71.2 372.32H73.4M71.2 328.98H73.4M71.2 285.64H73.4M71.2 242.30H73.4M132.2 459.2v2.2M230.2 459.2v2.2M328.2 459.2v2.2M426.2 459.2v2.2M524.2 459.2v2.2" stroke="#444" stroke-width="1"/>
<text transform="translate(69.8 465.60) scale(1 1.13)" font-size="15.2" text-anchor="end" fill="#222">0</text>
<text transform="translate(69.8 422.26) scale(1 1.13)" font-size="15.2" text-anchor="end" fill="#222">10</text>
<text transform="translate(69.8 378.92) scale(1 1.13)" font-size="15.2" text-anchor="end" fill="#222">20</text>
<text transform="translate(69.8 335.58) scale(1 1.13)" font-size="15.2" text-anchor="end" fill="#222">30</text>
<text transform="translate(69.8 292.24) scale(1 1.13)" font-size="15.2" text-anchor="end" fill="#222">40</text>
<text transform="translate(69.8 248.90) scale(1 1.13)" font-size="15.2" text-anchor="end" fill="#222">50</text>
<text transform="translate(132.2 474.6) scale(1 1.1)" font-size="15.4" text-anchor="middle" fill="#222">-5</text>
<text transform="translate(230.2 474.6) scale(1 1.1)" font-size="15.4" text-anchor="middle" fill="#222">5</text>
<text transform="translate(328.2 474.6) scale(1 1.1)" font-size="15.4" text-anchor="middle" fill="#222">10</text>
<text transform="translate(426.2 474.6) scale(1 1.1)" font-size="15.4" text-anchor="middle" fill="#222">17</text>
<text transform="translate(524.2 474.6) scale(1 1.1)" font-size="15.4" text-anchor="middle" fill="#222">60</text>
<path d="M477 474.4L484.7 450M493.8 474.4L501.6 450" stroke="#111" stroke-width="1.3"/>
<text x="231.2" y="281.8" font-size="27.6" text-anchor="middle" fill="#111">*</text>
<text x="329.9" y="281.8" font-size="27.6" text-anchor="middle" fill="#111">*</text>
<text x="426.7" y="281.8" font-size="27.6" text-anchor="middle" fill="#111">*</text>
<text x="521.7" y="281.8" font-size="27.6" text-anchor="middle" fill="#111">*</text>
<text x="128.6" y="496" font-size="15.4" font-weight="bold" fill="#111">Time relative to GABA agonist infusion in Field L (min)</text>
<text transform="translate(42 348.3) rotate(-90)" font-size="15.3" font-weight="bold" text-anchor="middle" fill="#111">Evoked firing rate (Hz)</text>
<text x="569.5" y="325.5" font-size="13" font-weight="bold" fill="#111">Playback stimulus</text>
<text x="613.5" y="339.2" font-size="11.4" fill="#222">Female call</text>
<text x="613.5" y="352.6" font-size="11.4" fill="#222">Male song 1</text>
<text x="613.5" y="365.8" font-size="11.4" fill="#222">Male song 2</text>
<text x="613.5" y="379.5" font-size="11.4" fill="#222">White noise</text>
<path d="M597.0999999999999 335.3h10.4" stroke="#E3A22E" stroke-width="1.4"/>
<rect x="598.10" y="331.10" width="8.4" height="8.4" fill="#E3A22E" fill-opacity="1"/>
<path d="M597.0999999999999 348.7h10.4" stroke="#62B6E6" stroke-width="1.4"/>
<circle cx="602.30" cy="348.70" r="4.6" fill="#62B6E6" fill-opacity="1"/>
<path d="M597.0999999999999 362.9h10.4" stroke="#3CA874" stroke-width="1.4"/>
<path d="M602.30 356.40L607.50 365.40L597.10 365.40Z" fill="#3CA874" fill-opacity="1"/>
<path d="M597.0999999999999 375.6h10.4" stroke="#000" stroke-width="1.4"/>
<path d="M602.30 371.40L606.50 375.60L602.30 379.80L598.10 375.60Z" fill="#000" fill-opacity="1"/>
</svg>
</body></html>
